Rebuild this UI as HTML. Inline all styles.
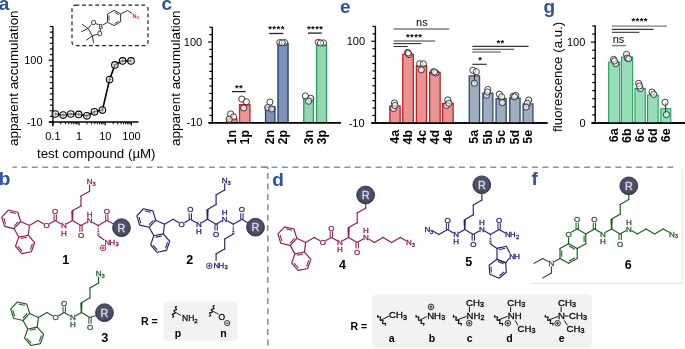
<!DOCTYPE html><html><head><meta charset="utf-8"><style>html,body{margin:0;padding:0;background:#fff;}svg{display:block;will-change:transform;}text{font-family:"Liberation Sans",sans-serif;}</style></head><body><svg width="685" height="349" viewBox="0 0 685 349"><text x="-1.2" y="10" font-size="19" fill="#2c52a0" font-weight="bold" text-anchor="start" >a</text>
<text x="161.4" y="10.1" font-size="19" fill="#2c52a0" font-weight="bold" text-anchor="start" >c</text>
<text x="339.9" y="12.7" font-size="19" fill="#2c52a0" font-weight="bold" text-anchor="start" >e</text>
<text x="543.5" y="12.6" font-size="19" fill="#2c52a0" font-weight="bold" text-anchor="start" >g</text>
<text x="-1.2" y="185.3" font-size="19" fill="#2c52a0" font-weight="bold" text-anchor="start" >b</text>
<text x="272.2" y="185.7" font-size="19" fill="#2c52a0" font-weight="bold" text-anchor="start" >d</text>
<text x="531.6" y="185.4" font-size="19" fill="#2c52a0" font-weight="bold" text-anchor="start" >f</text>
<line x1="12.5" y1="167.2" x2="673.2" y2="167.2" stroke="#7d94ba" stroke-width="1.6" stroke-dasharray="5.9 4.52" stroke-dashoffset="1.5"/>
<line x1="267.8" y1="173.1" x2="267.8" y2="346" stroke="#7d94ba" stroke-width="1.6" stroke-dasharray="6 4.4"/>
<line x1="261.1" y1="167.2" x2="268.1" y2="167.2" stroke="#7d94ba" stroke-width="1.6" />
<line x1="267.8" y1="167.2" x2="267.8" y2="169" stroke="#7d94ba" stroke-width="1.6" />
<path d="M531 283.3 H682.3 V169" fill="none" stroke="#e6e6e6" stroke-width="1.2"/>
<line x1="52.9" y1="26.19" x2="52.9" y2="126.2" stroke="#000" stroke-width="1.4" />
<line x1="48.7" y1="122" x2="52.9" y2="122" stroke="#000" stroke-width="1.2" />
<line x1="49.9" y1="116.38" x2="52.9" y2="116.38" stroke="#000" stroke-width="1.2" />
<line x1="49.9" y1="110.76" x2="52.9" y2="110.76" stroke="#000" stroke-width="1.2" />
<line x1="49.9" y1="105.15" x2="52.9" y2="105.15" stroke="#000" stroke-width="1.2" />
<line x1="49.9" y1="99.53" x2="52.9" y2="99.53" stroke="#000" stroke-width="1.2" />
<line x1="49.9" y1="93.91" x2="52.9" y2="93.91" stroke="#000" stroke-width="1.2" />
<line x1="49.9" y1="88.29" x2="52.9" y2="88.29" stroke="#000" stroke-width="1.2" />
<line x1="49.9" y1="82.67" x2="52.9" y2="82.67" stroke="#000" stroke-width="1.2" />
<line x1="49.9" y1="77.06" x2="52.9" y2="77.06" stroke="#000" stroke-width="1.2" />
<line x1="49.9" y1="71.44" x2="52.9" y2="71.44" stroke="#000" stroke-width="1.2" />
<line x1="49.9" y1="65.82" x2="52.9" y2="65.82" stroke="#000" stroke-width="1.2" />
<line x1="48.7" y1="60.2" x2="52.9" y2="60.2" stroke="#000" stroke-width="1.2" />
<line x1="49.9" y1="54.58" x2="52.9" y2="54.58" stroke="#000" stroke-width="1.2" />
<line x1="49.9" y1="48.97" x2="52.9" y2="48.97" stroke="#000" stroke-width="1.2" />
<line x1="49.9" y1="43.35" x2="52.9" y2="43.35" stroke="#000" stroke-width="1.2" />
<line x1="49.9" y1="37.73" x2="52.9" y2="37.73" stroke="#000" stroke-width="1.2" />
<line x1="49.9" y1="32.11" x2="52.9" y2="32.11" stroke="#000" stroke-width="1.2" />
<line x1="49.9" y1="26.49" x2="52.9" y2="26.49" stroke="#000" stroke-width="1.2" />
<line x1="49.4" y1="122" x2="138.5" y2="122" stroke="#000" stroke-width="1.4" />
<line x1="52.9" y1="122" x2="52.9" y2="125.5" stroke="#000" stroke-width="1.0" />
<line x1="60.79" y1="122" x2="60.79" y2="124.3" stroke="#000" stroke-width="1.0" />
<line x1="65.4" y1="122" x2="65.4" y2="124.3" stroke="#000" stroke-width="1.0" />
<line x1="68.67" y1="122" x2="68.67" y2="124.3" stroke="#000" stroke-width="1.0" />
<line x1="71.21" y1="122" x2="71.21" y2="124.3" stroke="#000" stroke-width="1.0" />
<line x1="73.29" y1="122" x2="73.29" y2="124.3" stroke="#000" stroke-width="1.0" />
<line x1="75.04" y1="122" x2="75.04" y2="124.3" stroke="#000" stroke-width="1.0" />
<line x1="76.56" y1="122" x2="76.56" y2="124.3" stroke="#000" stroke-width="1.0" />
<line x1="77.9" y1="122" x2="77.9" y2="124.3" stroke="#000" stroke-width="1.0" />
<line x1="79.1" y1="122" x2="79.1" y2="125.5" stroke="#000" stroke-width="1.0" />
<line x1="86.99" y1="122" x2="86.99" y2="124.3" stroke="#000" stroke-width="1.0" />
<line x1="91.6" y1="122" x2="91.6" y2="124.3" stroke="#000" stroke-width="1.0" />
<line x1="94.87" y1="122" x2="94.87" y2="124.3" stroke="#000" stroke-width="1.0" />
<line x1="97.41" y1="122" x2="97.41" y2="124.3" stroke="#000" stroke-width="1.0" />
<line x1="99.49" y1="122" x2="99.49" y2="124.3" stroke="#000" stroke-width="1.0" />
<line x1="101.24" y1="122" x2="101.24" y2="124.3" stroke="#000" stroke-width="1.0" />
<line x1="102.76" y1="122" x2="102.76" y2="124.3" stroke="#000" stroke-width="1.0" />
<line x1="104.1" y1="122" x2="104.1" y2="124.3" stroke="#000" stroke-width="1.0" />
<line x1="105.3" y1="122" x2="105.3" y2="125.5" stroke="#000" stroke-width="1.0" />
<line x1="113.19" y1="122" x2="113.19" y2="124.3" stroke="#000" stroke-width="1.0" />
<line x1="117.8" y1="122" x2="117.8" y2="124.3" stroke="#000" stroke-width="1.0" />
<line x1="121.07" y1="122" x2="121.07" y2="124.3" stroke="#000" stroke-width="1.0" />
<line x1="123.61" y1="122" x2="123.61" y2="124.3" stroke="#000" stroke-width="1.0" />
<line x1="125.69" y1="122" x2="125.69" y2="124.3" stroke="#000" stroke-width="1.0" />
<line x1="127.44" y1="122" x2="127.44" y2="124.3" stroke="#000" stroke-width="1.0" />
<line x1="128.96" y1="122" x2="128.96" y2="124.3" stroke="#000" stroke-width="1.0" />
<line x1="130.3" y1="122" x2="130.3" y2="124.3" stroke="#000" stroke-width="1.0" />
<line x1="131.5" y1="122" x2="131.5" y2="125.5" stroke="#000" stroke-width="1.0" />
<text x="42.6" y="64.2" font-size="11" fill="#000" font-weight="normal" text-anchor="end" >100</text>
<text x="42.6" y="126" font-size="11" fill="#000" font-weight="normal" text-anchor="end" >-10</text>
<text x="52.9" y="139.8" font-size="11" fill="#000" font-weight="normal" text-anchor="middle" >0.1</text>
<text x="79.1" y="139.8" font-size="11" fill="#000" font-weight="normal" text-anchor="middle" >1</text>
<text x="105.3" y="139.8" font-size="11" fill="#000" font-weight="normal" text-anchor="middle" >10</text>
<text x="131.5" y="139.8" font-size="11" fill="#000" font-weight="normal" text-anchor="middle" >100</text>
<text x="96.3" y="158.1" font-size="13.3" fill="#000" font-weight="normal" text-anchor="middle" >test compound (µM)</text>
<text x="17.8" y="78.2" font-size="13.4" fill="#000" font-weight="normal" text-anchor="middle" transform="rotate(-90 17.8 78.2)">apparent accumulation</text>
<polyline points="55.3,114 63.2,115.1 70.8,114 78.7,114.4 86.9,115.8 94.5,111.8 102.4,110.1 109.6,79.6 114.9,64.9 122.6,60.9 131,60.9" fill="none" stroke="#000" stroke-width="1.6"/>
<circle cx="55.3" cy="114" r="3.3" fill="rgba(255,255,255,0.55)" stroke="#000" stroke-width="1.05" />
<line x1="53.1" y1="114" x2="57.5" y2="114" stroke="#666" stroke-width="0.6" />
<line x1="55.3" y1="111.8" x2="55.3" y2="116.2" stroke="#666" stroke-width="0.6" />
<circle cx="63.2" cy="115.1" r="3.3" fill="rgba(255,255,255,0.55)" stroke="#000" stroke-width="1.05" />
<line x1="61" y1="115.1" x2="65.4" y2="115.1" stroke="#666" stroke-width="0.6" />
<line x1="63.2" y1="112.9" x2="63.2" y2="117.3" stroke="#666" stroke-width="0.6" />
<circle cx="70.8" cy="114" r="3.3" fill="rgba(255,255,255,0.55)" stroke="#000" stroke-width="1.05" />
<line x1="68.6" y1="114" x2="73" y2="114" stroke="#666" stroke-width="0.6" />
<line x1="70.8" y1="111.8" x2="70.8" y2="116.2" stroke="#666" stroke-width="0.6" />
<circle cx="78.7" cy="114.4" r="3.3" fill="rgba(255,255,255,0.55)" stroke="#000" stroke-width="1.05" />
<line x1="76.5" y1="114.4" x2="80.9" y2="114.4" stroke="#666" stroke-width="0.6" />
<line x1="78.7" y1="112.2" x2="78.7" y2="116.6" stroke="#666" stroke-width="0.6" />
<circle cx="86.9" cy="115.8" r="3.3" fill="rgba(255,255,255,0.55)" stroke="#000" stroke-width="1.05" />
<line x1="84.7" y1="115.8" x2="89.1" y2="115.8" stroke="#666" stroke-width="0.6" />
<line x1="86.9" y1="113.6" x2="86.9" y2="118" stroke="#666" stroke-width="0.6" />
<circle cx="94.5" cy="111.8" r="3.3" fill="rgba(255,255,255,0.55)" stroke="#000" stroke-width="1.05" />
<line x1="92.3" y1="111.8" x2="96.7" y2="111.8" stroke="#666" stroke-width="0.6" />
<line x1="94.5" y1="109.6" x2="94.5" y2="114" stroke="#666" stroke-width="0.6" />
<circle cx="102.4" cy="110.1" r="3.3" fill="rgba(255,255,255,0.55)" stroke="#000" stroke-width="1.05" />
<line x1="100.2" y1="110.1" x2="104.6" y2="110.1" stroke="#666" stroke-width="0.6" />
<line x1="102.4" y1="107.9" x2="102.4" y2="112.3" stroke="#666" stroke-width="0.6" />
<circle cx="109.6" cy="79.6" r="3.3" fill="rgba(255,255,255,0.55)" stroke="#000" stroke-width="1.05" />
<line x1="107.4" y1="79.6" x2="111.8" y2="79.6" stroke="#666" stroke-width="0.6" />
<line x1="109.6" y1="77.4" x2="109.6" y2="81.8" stroke="#666" stroke-width="0.6" />
<circle cx="114.9" cy="64.9" r="3.3" fill="rgba(255,255,255,0.55)" stroke="#000" stroke-width="1.05" />
<line x1="112.7" y1="64.9" x2="117.1" y2="64.9" stroke="#666" stroke-width="0.6" />
<line x1="114.9" y1="62.7" x2="114.9" y2="67.1" stroke="#666" stroke-width="0.6" />
<circle cx="122.6" cy="60.9" r="3.3" fill="rgba(255,255,255,0.55)" stroke="#000" stroke-width="1.05" />
<line x1="120.4" y1="60.9" x2="124.8" y2="60.9" stroke="#666" stroke-width="0.6" />
<line x1="122.6" y1="58.7" x2="122.6" y2="63.1" stroke="#666" stroke-width="0.6" />
<circle cx="131" cy="60.9" r="3.3" fill="rgba(255,255,255,0.55)" stroke="#000" stroke-width="1.05" />
<line x1="128.8" y1="60.9" x2="133.2" y2="60.9" stroke="#666" stroke-width="0.6" />
<line x1="131" y1="58.7" x2="131" y2="63.1" stroke="#666" stroke-width="0.6" />
<rect x="72" y="5.2" width="76" height="40.5" rx="3.5" fill="none" stroke="#222" stroke-width="1.2" stroke-dasharray="3.8 2.8"/>
<line x1="114.1" y1="10.3" x2="120.6" y2="14" stroke="#2e2e2e" stroke-width="1.0" />
<line x1="120.6" y1="14" x2="120.6" y2="21.8" stroke="#2e2e2e" stroke-width="1.0" />
<line x1="120.6" y1="21.8" x2="114.1" y2="25.6" stroke="#2e2e2e" stroke-width="1.0" />
<line x1="114.1" y1="25.6" x2="107.5" y2="22.2" stroke="#2e2e2e" stroke-width="1.0" />
<line x1="107.5" y1="22.2" x2="107.5" y2="14" stroke="#2e2e2e" stroke-width="1.0" />
<line x1="107.5" y1="14" x2="114.1" y2="10.3" stroke="#2e2e2e" stroke-width="1.0" />
<line x1="114.54" y1="12.28" x2="118.7" y2="14.65" stroke="#2e2e2e" stroke-width="0.9" />
<line x1="118.69" y1="21.18" x2="114.53" y2="23.61" stroke="#2e2e2e" stroke-width="0.9" />
<line x1="109" y1="20.7" x2="109" y2="15.45" stroke="#2e2e2e" stroke-width="0.9" />
<line x1="107.5" y1="22.2" x2="102.6" y2="25.2" stroke="#2e2e2e" stroke-width="1.0" />
<text x="100.6" y="28.6" font-size="6.5" fill="#2e2e2e" font-weight="normal" text-anchor="middle" stroke="#2e2e2e" stroke-width="0.2" >B</text>
<text x="93.5" y="25.4" font-size="6.5" fill="#2e2e2e" font-weight="normal" text-anchor="middle" stroke="#2e2e2e" stroke-width="0.2" >O</text>
<text x="99.8" y="36.2" font-size="6.5" fill="#2e2e2e" font-weight="normal" text-anchor="middle" stroke="#2e2e2e" stroke-width="0.2" >O</text>
<line x1="98.6" y1="24.6" x2="95.6" y2="23.6" stroke="#2e2e2e" stroke-width="1.0" />
<line x1="100.4" y1="28.6" x2="100.1" y2="31.4" stroke="#2e2e2e" stroke-width="1.0" />
<line x1="91.4" y1="24.3" x2="88" y2="28.5" stroke="#2e2e2e" stroke-width="1.0" />
<line x1="97.6" y1="34.3" x2="92.4" y2="35.7" stroke="#2e2e2e" stroke-width="1.0" />
<line x1="88" y1="28.5" x2="92.4" y2="35.7" stroke="#2e2e2e" stroke-width="1.0" />
<line x1="88" y1="28.5" x2="82" y2="24.2" stroke="#2e2e2e" stroke-width="1.0" />
<line x1="88" y1="28.5" x2="81.2" y2="31.8" stroke="#2e2e2e" stroke-width="1.0" />
<line x1="92.4" y1="35.7" x2="86.3" y2="40.4" stroke="#2e2e2e" stroke-width="1.0" />
<line x1="92.4" y1="35.7" x2="93.5" y2="42.8" stroke="#2e2e2e" stroke-width="1.0" />
<line x1="120.6" y1="14" x2="127.5" y2="10.6" stroke="#2e2e2e" stroke-width="1.0" />
<line x1="127.5" y1="10.6" x2="132.4" y2="13.6" stroke="#2e2e2e" stroke-width="1.0" />
<text x="132.5" y="17.7" font-size="5.6" fill="#e02424" font-weight="bold" text-anchor="start" >N</text>
<text x="136.4" y="18.9" font-size="4.3" fill="#e02424" font-weight="bold" text-anchor="start" >3</text>
<line x1="212.3" y1="27.01" x2="212.3" y2="123.5" stroke="#000" stroke-width="1.4" />
<line x1="208.1" y1="122.8" x2="212.3" y2="122.8" stroke="#000" stroke-width="1.2" />
<line x1="209.3" y1="115.45" x2="212.3" y2="115.45" stroke="#000" stroke-width="1.2" />
<line x1="209.3" y1="108.11" x2="212.3" y2="108.11" stroke="#000" stroke-width="1.2" />
<line x1="209.3" y1="100.77" x2="212.3" y2="100.77" stroke="#000" stroke-width="1.2" />
<line x1="209.3" y1="93.42" x2="212.3" y2="93.42" stroke="#000" stroke-width="1.2" />
<line x1="209.3" y1="86.07" x2="212.3" y2="86.07" stroke="#000" stroke-width="1.2" />
<line x1="209.3" y1="78.73" x2="212.3" y2="78.73" stroke="#000" stroke-width="1.2" />
<line x1="209.3" y1="71.38" x2="212.3" y2="71.38" stroke="#000" stroke-width="1.2" />
<line x1="209.3" y1="64.04" x2="212.3" y2="64.04" stroke="#000" stroke-width="1.2" />
<line x1="209.3" y1="56.69" x2="212.3" y2="56.69" stroke="#000" stroke-width="1.2" />
<line x1="209.3" y1="49.35" x2="212.3" y2="49.35" stroke="#000" stroke-width="1.2" />
<line x1="208.1" y1="42" x2="212.3" y2="42" stroke="#000" stroke-width="1.2" />
<line x1="209.3" y1="34.66" x2="212.3" y2="34.66" stroke="#000" stroke-width="1.2" />
<line x1="209.3" y1="27.31" x2="212.3" y2="27.31" stroke="#000" stroke-width="1.2" />
<line x1="209" y1="122.8" x2="340.9" y2="122.8" stroke="#000" stroke-width="1.5" />
<text x="202.2" y="46" font-size="11" fill="#000" font-weight="normal" text-anchor="end" >100</text>
<text x="202.5" y="126.1" font-size="11" fill="#000" font-weight="normal" text-anchor="end" >-10</text>
<text x="179.7" y="78.2" font-size="13.4" fill="#000" font-weight="normal" text-anchor="middle" transform="rotate(-90 179.7 78.2)">apparent accumulation</text>
<rect x="226.65" y="118.85" width="10.3" height="3.95" rx="0" fill="#e89697" stroke="none" stroke-width="0" />
<path d="M226.65,122.8 V118.85 H236.95 V122.8" fill="none" stroke="#d42222" stroke-width="1.3"/>
<text x="235.9" y="129.8" font-size="12.5" fill="#000" font-weight="bold" text-anchor="end" transform="rotate(-90 235.9 129.8)">1n</text>
<rect x="239.55" y="104.75" width="10.4" height="18.05" rx="0" fill="#e89697" stroke="none" stroke-width="0" />
<path d="M239.55,122.8 V104.75 H249.95 V122.8" fill="none" stroke="#d42222" stroke-width="1.3"/>
<text x="248.85" y="129.8" font-size="12.5" fill="#000" font-weight="bold" text-anchor="end" transform="rotate(-90 248.85 129.8)">1p</text>
<rect x="265.55" y="106.85" width="9.4" height="15.95" rx="0" fill="#7f91b4" stroke="none" stroke-width="0" />
<path d="M265.55,122.8 V106.85 H274.95 V122.8" fill="none" stroke="#1f3b7c" stroke-width="1.3"/>
<text x="274.35" y="129.8" font-size="12.5" fill="#000" font-weight="bold" text-anchor="end" transform="rotate(-90 274.35 129.8)">2n</text>
<rect x="277.95" y="43.55" width="10.1" height="79.25" rx="0" fill="#7f91b4" stroke="none" stroke-width="0" />
<path d="M277.95,122.8 V43.55 H288.05 V122.8" fill="none" stroke="#1f3b7c" stroke-width="1.3"/>
<text x="287.1" y="129.8" font-size="12.5" fill="#000" font-weight="bold" text-anchor="end" transform="rotate(-90 287.1 129.8)">2p</text>
<rect x="303.75" y="98.15" width="9.7" height="24.65" rx="0" fill="#96d4b4" stroke="none" stroke-width="0" />
<path d="M303.75,122.8 V98.15 H313.45 V122.8" fill="none" stroke="#22a055" stroke-width="1.3"/>
<text x="312.7" y="129.8" font-size="12.5" fill="#000" font-weight="bold" text-anchor="end" transform="rotate(-90 312.7 129.8)">3n</text>
<rect x="316.55" y="44.95" width="10" height="77.85" rx="0" fill="#96d4b4" stroke="none" stroke-width="0" />
<path d="M316.55,122.8 V44.95 H326.55 V122.8" fill="none" stroke="#22a055" stroke-width="1.3"/>
<text x="325.65" y="129.8" font-size="12.5" fill="#000" font-weight="bold" text-anchor="end" transform="rotate(-90 325.65 129.8)">3p</text>
<line x1="209" y1="122.8" x2="340.9" y2="122.8" stroke="#000" stroke-width="1.5" />
<circle cx="230.6" cy="114" r="3.1" fill="rgba(255,255,255,0.6)" stroke="#2a2a2a" stroke-width="0.9" />
<circle cx="233.6" cy="116.9" r="3.1" fill="rgba(255,255,255,0.6)" stroke="#2a2a2a" stroke-width="0.9" />
<circle cx="229.2" cy="119.3" r="3.1" fill="rgba(255,255,255,0.6)" stroke="#2a2a2a" stroke-width="0.9" />
<circle cx="241.8" cy="99.1" r="3.1" fill="rgba(255,255,255,0.6)" stroke="#2a2a2a" stroke-width="0.9" />
<circle cx="246.4" cy="101.7" r="3.1" fill="rgba(255,255,255,0.6)" stroke="#2a2a2a" stroke-width="0.9" />
<circle cx="243.7" cy="107.9" r="3.1" fill="rgba(255,255,255,0.6)" stroke="#2a2a2a" stroke-width="0.9" />
<circle cx="269.9" cy="102.1" r="3.1" fill="rgba(255,255,255,0.6)" stroke="#2a2a2a" stroke-width="0.9" />
<circle cx="267.6" cy="107.6" r="3.1" fill="rgba(255,255,255,0.6)" stroke="#2a2a2a" stroke-width="0.9" />
<circle cx="271.8" cy="109" r="3.1" fill="rgba(255,255,255,0.6)" stroke="#2a2a2a" stroke-width="0.9" />
<circle cx="279.8" cy="42.6" r="3.1" fill="rgba(255,255,255,0.6)" stroke="#2a2a2a" stroke-width="0.9" />
<circle cx="284.6" cy="42.6" r="3.1" fill="rgba(255,255,255,0.6)" stroke="#2a2a2a" stroke-width="0.9" />
<circle cx="282.2" cy="42.8" r="3.1" fill="rgba(255,255,255,0.6)" stroke="#2a2a2a" stroke-width="0.9" />
<circle cx="305.4" cy="96" r="3.1" fill="rgba(255,255,255,0.6)" stroke="#2a2a2a" stroke-width="0.9" />
<circle cx="310.7" cy="98.3" r="3.1" fill="rgba(255,255,255,0.6)" stroke="#2a2a2a" stroke-width="0.9" />
<circle cx="308.6" cy="101.2" r="3.1" fill="rgba(255,255,255,0.6)" stroke="#2a2a2a" stroke-width="0.9" />
<circle cx="318.3" cy="42.4" r="3.1" fill="rgba(255,255,255,0.6)" stroke="#2a2a2a" stroke-width="0.9" />
<circle cx="323.5" cy="42.9" r="3.1" fill="rgba(255,255,255,0.6)" stroke="#2a2a2a" stroke-width="0.9" />
<circle cx="320.5" cy="43" r="3.1" fill="rgba(255,255,255,0.6)" stroke="#2a2a2a" stroke-width="0.9" />
<line x1="231.9" y1="91.6" x2="245.7" y2="91.6" stroke="#222" stroke-width="1.3" />
<text x="239.1" y="90.5" font-size="9.5" fill="#000" font-weight="bold" text-anchor="middle" letter-spacing="0.45">**</text>
<line x1="269.2" y1="33.5" x2="283.2" y2="33.5" stroke="#222" stroke-width="1.3" />
<text x="276.5" y="31.9" font-size="9.5" fill="#000" font-weight="bold" text-anchor="middle" letter-spacing="0.45">****</text>
<line x1="308" y1="33.1" x2="321.8" y2="33.1" stroke="#222" stroke-width="1.3" />
<text x="315.2" y="31.8" font-size="9.5" fill="#000" font-weight="bold" text-anchor="middle" letter-spacing="0.45">****</text>
<line x1="375.4" y1="26.14" x2="375.4" y2="123.6" stroke="#000" stroke-width="1.4" />
<line x1="371.2" y1="122.9" x2="375.4" y2="122.9" stroke="#000" stroke-width="1.2" />
<line x1="372.4" y1="115.48" x2="375.4" y2="115.48" stroke="#000" stroke-width="1.2" />
<line x1="372.4" y1="108.06" x2="375.4" y2="108.06" stroke="#000" stroke-width="1.2" />
<line x1="372.4" y1="100.64" x2="375.4" y2="100.64" stroke="#000" stroke-width="1.2" />
<line x1="372.4" y1="93.22" x2="375.4" y2="93.22" stroke="#000" stroke-width="1.2" />
<line x1="372.4" y1="85.8" x2="375.4" y2="85.8" stroke="#000" stroke-width="1.2" />
<line x1="372.4" y1="78.38" x2="375.4" y2="78.38" stroke="#000" stroke-width="1.2" />
<line x1="372.4" y1="70.96" x2="375.4" y2="70.96" stroke="#000" stroke-width="1.2" />
<line x1="372.4" y1="63.54" x2="375.4" y2="63.54" stroke="#000" stroke-width="1.2" />
<line x1="372.4" y1="56.12" x2="375.4" y2="56.12" stroke="#000" stroke-width="1.2" />
<line x1="372.4" y1="48.7" x2="375.4" y2="48.7" stroke="#000" stroke-width="1.2" />
<line x1="371.2" y1="41.28" x2="375.4" y2="41.28" stroke="#000" stroke-width="1.2" />
<line x1="372.4" y1="33.86" x2="375.4" y2="33.86" stroke="#000" stroke-width="1.2" />
<line x1="372.4" y1="26.44" x2="375.4" y2="26.44" stroke="#000" stroke-width="1.2" />
<line x1="371.6" y1="122.9" x2="547.5" y2="122.9" stroke="#000" stroke-width="1.5" />
<text x="365" y="45.3" font-size="11" fill="#000" font-weight="normal" text-anchor="end" >100</text>
<text x="364.6" y="126.5" font-size="11" fill="#000" font-weight="normal" text-anchor="end" >-10</text>
<rect x="389.85" y="106.15" width="10.3" height="16.75" rx="0" fill="#e69494" stroke="none" stroke-width="0" />
<path d="M389.85,122.9 V106.15 H400.15 V122.9" fill="none" stroke="#cc1c1c" stroke-width="1.3"/>
<text x="399.1" y="129.8" font-size="12.5" fill="#000" font-weight="bold" text-anchor="end" transform="rotate(-90 399.1 129.8)">4a</text>
<rect x="402.75" y="54.45" width="10.6" height="68.45" rx="0" fill="#e69494" stroke="none" stroke-width="0" />
<path d="M402.75,122.9 V54.45 H413.35 V122.9" fill="none" stroke="#cc1c1c" stroke-width="1.3"/>
<text x="412.15" y="129.8" font-size="12.5" fill="#000" font-weight="bold" text-anchor="end" transform="rotate(-90 412.15 129.8)">4b</text>
<rect x="416.35" y="65.75" width="10.2" height="57.15" rx="0" fill="#e69494" stroke="none" stroke-width="0" />
<path d="M416.35,122.9 V65.75 H426.55 V122.9" fill="none" stroke="#cc1c1c" stroke-width="1.3"/>
<text x="425.55" y="129.8" font-size="12.5" fill="#000" font-weight="bold" text-anchor="end" transform="rotate(-90 425.55 129.8)">4c</text>
<rect x="429.65" y="72.45" width="10.5" height="50.45" rx="0" fill="#e69494" stroke="none" stroke-width="0" />
<path d="M429.65,122.9 V72.45 H440.15 V122.9" fill="none" stroke="#cc1c1c" stroke-width="1.3"/>
<text x="439" y="129.8" font-size="12.5" fill="#000" font-weight="bold" text-anchor="end" transform="rotate(-90 439 129.8)">4d</text>
<rect x="442.65" y="103.45" width="10.5" height="19.45" rx="0" fill="#e69494" stroke="none" stroke-width="0" />
<path d="M442.65,122.9 V103.45 H453.15 V122.9" fill="none" stroke="#cc1c1c" stroke-width="1.3"/>
<text x="452" y="129.8" font-size="12.5" fill="#000" font-weight="bold" text-anchor="end" transform="rotate(-90 452 129.8)">4e</text>
<rect x="469.25" y="75.85" width="10.3" height="47.05" rx="0" fill="#a0adbf" stroke="none" stroke-width="0" />
<path d="M469.25,122.9 V75.85 H479.55 V122.9" fill="none" stroke="#2f4b70" stroke-width="1.3"/>
<text x="478.5" y="129.8" font-size="12.5" fill="#000" font-weight="bold" text-anchor="end" transform="rotate(-90 478.5 129.8)">5a</text>
<rect x="482.85" y="93.05" width="10" height="29.85" rx="0" fill="#a0adbf" stroke="none" stroke-width="0" />
<path d="M482.85,122.9 V93.05 H492.85 V122.9" fill="none" stroke="#2f4b70" stroke-width="1.3"/>
<text x="491.95" y="129.8" font-size="12.5" fill="#000" font-weight="bold" text-anchor="end" transform="rotate(-90 491.95 129.8)">5b</text>
<rect x="496.05" y="98.75" width="10.1" height="24.15" rx="0" fill="#a0adbf" stroke="none" stroke-width="0" />
<path d="M496.05,122.9 V98.75 H506.15 V122.9" fill="none" stroke="#2f4b70" stroke-width="1.3"/>
<text x="505.2" y="129.8" font-size="12.5" fill="#000" font-weight="bold" text-anchor="end" transform="rotate(-90 505.2 129.8)">5c</text>
<rect x="509.75" y="98.15" width="10.3" height="24.75" rx="0" fill="#a0adbf" stroke="none" stroke-width="0" />
<path d="M509.75,122.9 V98.15 H520.05 V122.9" fill="none" stroke="#2f4b70" stroke-width="1.3"/>
<text x="519" y="129.8" font-size="12.5" fill="#000" font-weight="bold" text-anchor="end" transform="rotate(-90 519 129.8)">5d</text>
<rect x="523.15" y="103.95" width="9.8" height="18.95" rx="0" fill="#a0adbf" stroke="none" stroke-width="0" />
<path d="M523.15,122.9 V103.95 H532.95 V122.9" fill="none" stroke="#2f4b70" stroke-width="1.3"/>
<text x="532.15" y="129.8" font-size="12.5" fill="#000" font-weight="bold" text-anchor="end" transform="rotate(-90 532.15 129.8)">5e</text>
<line x1="371.6" y1="122.9" x2="547.5" y2="122.9" stroke="#000" stroke-width="1.5" />
<circle cx="394.5" cy="103" r="3.1" fill="rgba(255,255,255,0.6)" stroke="#2a2a2a" stroke-width="0.9" />
<circle cx="393.5" cy="108.5" r="3.1" fill="rgba(255,255,255,0.6)" stroke="#2a2a2a" stroke-width="0.9" />
<circle cx="395" cy="105.5" r="3.1" fill="rgba(255,255,255,0.6)" stroke="#2a2a2a" stroke-width="0.9" />
<circle cx="407.6" cy="52.5" r="3.1" fill="rgba(255,255,255,0.6)" stroke="#2a2a2a" stroke-width="0.9" />
<circle cx="409" cy="54.5" r="3.1" fill="rgba(255,255,255,0.6)" stroke="#2a2a2a" stroke-width="0.9" />
<circle cx="408.2" cy="53" r="3.1" fill="rgba(255,255,255,0.6)" stroke="#2a2a2a" stroke-width="0.9" />
<circle cx="419.7" cy="63.8" r="3.1" fill="rgba(255,255,255,0.6)" stroke="#2a2a2a" stroke-width="0.9" />
<circle cx="423.3" cy="63.8" r="3.1" fill="rgba(255,255,255,0.6)" stroke="#2a2a2a" stroke-width="0.9" />
<circle cx="421.3" cy="69.8" r="3.1" fill="rgba(255,255,255,0.6)" stroke="#2a2a2a" stroke-width="0.9" />
<circle cx="433.3" cy="71.8" r="3.1" fill="rgba(255,255,255,0.6)" stroke="#2a2a2a" stroke-width="0.9" />
<circle cx="435.9" cy="73" r="3.1" fill="rgba(255,255,255,0.6)" stroke="#2a2a2a" stroke-width="0.9" />
<circle cx="434.5" cy="72" r="3.1" fill="rgba(255,255,255,0.6)" stroke="#2a2a2a" stroke-width="0.9" />
<circle cx="447.8" cy="99.9" r="3.1" fill="rgba(255,255,255,0.6)" stroke="#2a2a2a" stroke-width="0.9" />
<circle cx="446.6" cy="105.4" r="3.1" fill="rgba(255,255,255,0.6)" stroke="#2a2a2a" stroke-width="0.9" />
<circle cx="448.9" cy="103.3" r="3.1" fill="rgba(255,255,255,0.6)" stroke="#2a2a2a" stroke-width="0.9" />
<line x1="474.4" y1="71" x2="474.4" y2="83" stroke="#222" stroke-width="1.0" />
<circle cx="472.9" cy="70.3" r="3.1" fill="rgba(255,255,255,0.6)" stroke="#2a2a2a" stroke-width="0.9" />
<circle cx="476.3" cy="71.7" r="3.1" fill="rgba(255,255,255,0.6)" stroke="#2a2a2a" stroke-width="0.9" />
<circle cx="474.4" cy="83.2" r="3.1" fill="rgba(255,255,255,0.6)" stroke="#2a2a2a" stroke-width="0.9" />
<circle cx="487.8" cy="89.5" r="3.1" fill="rgba(255,255,255,0.6)" stroke="#2a2a2a" stroke-width="0.9" />
<circle cx="486.6" cy="95.2" r="3.1" fill="rgba(255,255,255,0.6)" stroke="#2a2a2a" stroke-width="0.9" />
<circle cx="487.5" cy="92" r="3.1" fill="rgba(255,255,255,0.6)" stroke="#2a2a2a" stroke-width="0.9" />
<circle cx="499.3" cy="94.2" r="3.1" fill="rgba(255,255,255,0.6)" stroke="#2a2a2a" stroke-width="0.9" />
<circle cx="501.6" cy="96.8" r="3.1" fill="rgba(255,255,255,0.6)" stroke="#2a2a2a" stroke-width="0.9" />
<circle cx="502.2" cy="102.6" r="3.1" fill="rgba(255,255,255,0.6)" stroke="#2a2a2a" stroke-width="0.9" />
<circle cx="513.2" cy="96.2" r="3.1" fill="rgba(255,255,255,0.6)" stroke="#2a2a2a" stroke-width="0.9" />
<circle cx="515.8" cy="95.5" r="3.1" fill="rgba(255,255,255,0.6)" stroke="#2a2a2a" stroke-width="0.9" />
<circle cx="514.5" cy="96.8" r="3.1" fill="rgba(255,255,255,0.6)" stroke="#2a2a2a" stroke-width="0.9" />
<circle cx="528.7" cy="100" r="3.1" fill="rgba(255,255,255,0.6)" stroke="#2a2a2a" stroke-width="0.9" />
<circle cx="527.4" cy="103.3" r="3.1" fill="rgba(255,255,255,0.6)" stroke="#2a2a2a" stroke-width="0.9" />
<circle cx="526.1" cy="107.1" r="3.1" fill="rgba(255,255,255,0.6)" stroke="#2a2a2a" stroke-width="0.9" />
<line x1="393.6" y1="29" x2="449.3" y2="29" stroke="#7d7d7d" stroke-width="1.4" />
<text x="421.9" y="25.8" font-size="11" fill="#000" font-weight="normal" text-anchor="middle" >ns</text>
<text x="414.2" y="40.2" font-size="9.5" fill="#000" font-weight="bold" text-anchor="middle" letter-spacing="0.45">****</text>
<line x1="393.6" y1="41" x2="435.1" y2="41" stroke="#7d7d7d" stroke-width="1.4" />
<line x1="393.6" y1="43.6" x2="421.4" y2="43.6" stroke="#333" stroke-width="1.1" />
<line x1="393.6" y1="46.5" x2="407.7" y2="46.5" stroke="#333" stroke-width="1.1" />
<text x="500.6" y="45.6" font-size="9.5" fill="#000" font-weight="bold" text-anchor="middle" letter-spacing="0.45">**</text>
<line x1="472.4" y1="46.4" x2="528.5" y2="46.4" stroke="#333" stroke-width="1.2" />
<line x1="472.4" y1="49.3" x2="514.2" y2="49.3" stroke="#333" stroke-width="1.1" />
<line x1="472.4" y1="52" x2="500.8" y2="52" stroke="#7d7d7d" stroke-width="1.4" />
<text x="480.3" y="62.8" font-size="9.5" fill="#000" font-weight="bold" text-anchor="middle" letter-spacing="0.45">*</text>
<line x1="472.4" y1="64.3" x2="486.7" y2="64.3" stroke="#333" stroke-width="1.2" />
<line x1="595.2" y1="25.62" x2="595.2" y2="123.7" stroke="#000" stroke-width="1.4" />
<line x1="591" y1="123" x2="595.2" y2="123" stroke="#000" stroke-width="1.2" />
<line x1="592.2" y1="114.91" x2="595.2" y2="114.91" stroke="#000" stroke-width="1.2" />
<line x1="592.2" y1="106.82" x2="595.2" y2="106.82" stroke="#000" stroke-width="1.2" />
<line x1="592.2" y1="98.73" x2="595.2" y2="98.73" stroke="#000" stroke-width="1.2" />
<line x1="592.2" y1="90.64" x2="595.2" y2="90.64" stroke="#000" stroke-width="1.2" />
<line x1="592.2" y1="82.55" x2="595.2" y2="82.55" stroke="#000" stroke-width="1.2" />
<line x1="592.2" y1="74.46" x2="595.2" y2="74.46" stroke="#000" stroke-width="1.2" />
<line x1="592.2" y1="66.37" x2="595.2" y2="66.37" stroke="#000" stroke-width="1.2" />
<line x1="592.2" y1="58.28" x2="595.2" y2="58.28" stroke="#000" stroke-width="1.2" />
<line x1="592.2" y1="50.19" x2="595.2" y2="50.19" stroke="#000" stroke-width="1.2" />
<line x1="591" y1="42.1" x2="595.2" y2="42.1" stroke="#000" stroke-width="1.2" />
<line x1="592.2" y1="34.01" x2="595.2" y2="34.01" stroke="#000" stroke-width="1.2" />
<line x1="592.2" y1="25.92" x2="595.2" y2="25.92" stroke="#000" stroke-width="1.2" />
<line x1="592" y1="123" x2="685" y2="123" stroke="#000" stroke-width="1.5" />
<text x="585.3" y="45.6" font-size="11" fill="#000" font-weight="normal" text-anchor="end" >100</text>
<text x="585.5" y="126.5" font-size="11" fill="#000" font-weight="normal" text-anchor="end" >0</text>
<text x="562.2" y="76.8" font-size="13.3" fill="#000" font-weight="normal" text-anchor="middle" transform="rotate(-90 562.2 76.8)">fluorescence (a.u.)</text>
<rect x="608.65" y="62.05" width="11.1" height="60.95" rx="0" fill="#97ddb8" stroke="none" stroke-width="0" />
<path d="M608.65,123 V62.05 H619.75 V123" fill="none" stroke="#22a157" stroke-width="1.1"/>
<text x="618.3" y="128.4" font-size="12.5" fill="#000" font-weight="bold" text-anchor="end" transform="rotate(-90 618.3 128.4)">6a</text>
<rect x="621.45" y="57.05" width="11.2" height="65.95" rx="0" fill="#97ddb8" stroke="none" stroke-width="0" />
<path d="M621.45,123 V57.05 H632.65 V123" fill="none" stroke="#22a157" stroke-width="1.1"/>
<text x="631.15" y="128.4" font-size="12.5" fill="#000" font-weight="bold" text-anchor="end" transform="rotate(-90 631.15 128.4)">6b</text>
<rect x="634.95" y="88.65" width="10.3" height="34.35" rx="0" fill="#97ddb8" stroke="none" stroke-width="0" />
<path d="M634.95,123 V88.65 H645.25 V123" fill="none" stroke="#22a157" stroke-width="1.1"/>
<text x="644.2" y="128.4" font-size="12.5" fill="#000" font-weight="bold" text-anchor="end" transform="rotate(-90 644.2 128.4)">6c</text>
<rect x="647.55" y="94.95" width="10.6" height="28.05" rx="0" fill="#97ddb8" stroke="none" stroke-width="0" />
<path d="M647.55,123 V94.95 H658.15 V123" fill="none" stroke="#22a157" stroke-width="1.1"/>
<text x="656.95" y="128.4" font-size="12.5" fill="#000" font-weight="bold" text-anchor="end" transform="rotate(-90 656.95 128.4)">6d</text>
<rect x="660.85" y="108.75" width="9.9" height="14.25" rx="0" fill="#97ddb8" stroke="none" stroke-width="0" />
<path d="M660.85,123 V108.75 H670.75 V123" fill="none" stroke="#22a157" stroke-width="1.1"/>
<text x="669.9" y="128.4" font-size="12.5" fill="#000" font-weight="bold" text-anchor="end" transform="rotate(-90 669.9 128.4)">6e</text>
<line x1="592" y1="123" x2="685" y2="123" stroke="#000" stroke-width="1.5" />
<circle cx="613.6" cy="59.4" r="3.1" fill="rgba(255,255,255,0.6)" stroke="#2a2a2a" stroke-width="0.9" />
<circle cx="615.8" cy="63.7" r="3.1" fill="rgba(255,255,255,0.6)" stroke="#2a2a2a" stroke-width="0.9" />
<circle cx="614.5" cy="61" r="3.1" fill="rgba(255,255,255,0.6)" stroke="#2a2a2a" stroke-width="0.9" />
<circle cx="626.5" cy="54.4" r="3.1" fill="rgba(255,255,255,0.6)" stroke="#2a2a2a" stroke-width="0.9" />
<circle cx="627.2" cy="58" r="3.1" fill="rgba(255,255,255,0.6)" stroke="#2a2a2a" stroke-width="0.9" />
<circle cx="628.7" cy="58.7" r="3.1" fill="rgba(255,255,255,0.6)" stroke="#2a2a2a" stroke-width="0.9" />
<circle cx="638.7" cy="83.4" r="3.1" fill="rgba(255,255,255,0.6)" stroke="#2a2a2a" stroke-width="0.9" />
<circle cx="640.3" cy="88.6" r="3.1" fill="rgba(255,255,255,0.6)" stroke="#2a2a2a" stroke-width="0.9" />
<circle cx="639.5" cy="86" r="3.1" fill="rgba(255,255,255,0.6)" stroke="#2a2a2a" stroke-width="0.9" />
<circle cx="652.1" cy="92.1" r="3.1" fill="rgba(255,255,255,0.6)" stroke="#2a2a2a" stroke-width="0.9" />
<circle cx="653.7" cy="94.4" r="3.1" fill="rgba(255,255,255,0.6)" stroke="#2a2a2a" stroke-width="0.9" />
<line x1="665.7" y1="102.3" x2="665.7" y2="114.6" stroke="#222" stroke-width="1.0" />
<circle cx="665" cy="102.3" r="3.1" fill="rgba(255,255,255,0.6)" stroke="#2a2a2a" stroke-width="0.9" />
<circle cx="666.4" cy="114.6" r="3.1" fill="rgba(255,255,255,0.6)" stroke="#2a2a2a" stroke-width="0.9" />
<text x="639.7" y="24.2" font-size="9.5" fill="#000" font-weight="bold" text-anchor="middle" letter-spacing="0.45">****</text>
<line x1="611.9" y1="26.1" x2="666.9" y2="26.1" stroke="#7d7d7d" stroke-width="1.4" />
<line x1="611.9" y1="29.4" x2="653.5" y2="29.4" stroke="#333" stroke-width="1.1" />
<line x1="611.9" y1="32.3" x2="639.4" y2="32.3" stroke="#333" stroke-width="1.1" />
<text x="618.5" y="42.6" font-size="11" fill="#000" font-weight="normal" text-anchor="middle" >ns</text>
<line x1="611.9" y1="45.6" x2="626.1" y2="45.6" stroke="#7d7d7d" stroke-width="1.4" />
<defs><radialGradient id="rg" cx="50%" cy="45%" r="55%"><stop offset="0" stop-color="#575a72"/><stop offset="0.75" stop-color="#4a4d64"/><stop offset="1" stop-color="#383a50"/></radialGradient></defs>
<path d="M20.63,221.5 L14.01,228.59 L4.56,226.41 L1.72,217.14 L8.34,210.04 L17.79,212.22 Z" fill="none" stroke="#8d1c56" stroke-width="1.15" stroke-linejoin="round"/>
<path d="M18.71,237.08 L28.23,235.23 L34.6,242.55 L31.44,251.72 L21.92,253.57 L15.55,246.25 Z" fill="none" stroke="#8d1c56" stroke-width="1.15" stroke-linejoin="round"/>
<line x1="18.26" y1="221.55" x2="13.89" y2="226.23" stroke="#8d1c56" stroke-width="1.035" />
<line x1="5.7" y1="224.34" x2="3.83" y2="218.22" stroke="#8d1c56" stroke-width="1.035" />
<line x1="9.56" y1="212.07" x2="15.8" y2="213.51" stroke="#8d1c56" stroke-width="1.035" />
<line x1="20.66" y1="238.43" x2="26.94" y2="237.21" stroke="#8d1c56" stroke-width="1.035" />
<line x1="32.45" y1="243.55" x2="30.37" y2="249.61" stroke="#8d1c56" stroke-width="1.035" />
<line x1="22.12" y1="251.21" x2="17.92" y2="246.38" stroke="#8d1c56" stroke-width="1.035" />
<line x1="20.63" y1="221.5" x2="29.42" y2="225.6" stroke="#8d1c56" stroke-width="1.15" />
<line x1="28.23" y1="235.23" x2="29.42" y2="225.6" stroke="#8d1c56" stroke-width="1.15" />
<line x1="14.01" y1="228.59" x2="18.71" y2="237.08" stroke="#8d1c56" stroke-width="1.15" />
<line x1="29.42" y1="225.6" x2="38" y2="220.6" stroke="#8d1c56" stroke-width="1.15" stroke-linecap="round"/>
<line x1="38" y1="220.6" x2="43.49" y2="223.79" stroke="#8d1c56" stroke-width="1.15" stroke-linecap="round"/>
<line x1="49.71" y1="223.79" x2="55.2" y2="220.6" stroke="#8d1c56" stroke-width="1.15" stroke-linecap="round"/>
<line x1="56.35" y1="220.6" x2="56.35" y2="214.5" stroke="#8d1c56" stroke-width="1.035" />
<line x1="54.05" y1="220.6" x2="54.05" y2="214.5" stroke="#8d1c56" stroke-width="1.035" />
<line x1="55.2" y1="220.6" x2="60.69" y2="223.79" stroke="#8d1c56" stroke-width="1.15" stroke-linecap="round"/>
<line x1="66.91" y1="223.79" x2="72.4" y2="220.6" stroke="#8d1c56" stroke-width="1.15" stroke-linecap="round"/>
<text x="63.8" y="235.58" font-size="8" fill="#8d1c56" font-weight="normal" text-anchor="middle" stroke="#8d1c56" stroke-width="0.3" >H</text>
<polygon points="73.15,220.6 73.55,210.8 71.25,210.8 71.65,220.6" fill="#8d1c56"/>
<line x1="72.4" y1="210.8" x2="81" y2="205.9" stroke="#8d1c56" stroke-width="1.15" stroke-linecap="round"/>
<line x1="81" y1="205.9" x2="81" y2="196.1" stroke="#8d1c56" stroke-width="1.15" stroke-linecap="round"/>
<line x1="81" y1="196.1" x2="89.6" y2="191.2" stroke="#8d1c56" stroke-width="1.15" stroke-linecap="round"/>
<line x1="89.6" y1="191.2" x2="89.6" y2="185" stroke="#8d1c56" stroke-width="1.15" stroke-linecap="round"/>
<line x1="72.4" y1="220.6" x2="81" y2="225.6" stroke="#8d1c56" stroke-width="1.15" stroke-linecap="round"/>
<line x1="79.85" y1="225.6" x2="79.85" y2="231.8" stroke="#8d1c56" stroke-width="1.035" />
<line x1="82.15" y1="225.6" x2="82.15" y2="231.8" stroke="#8d1c56" stroke-width="1.035" />
<line x1="81" y1="225.6" x2="86.49" y2="222.41" stroke="#8d1c56" stroke-width="1.15" stroke-linecap="round"/>
<line x1="92.71" y1="222.41" x2="98.2" y2="225.6" stroke="#8d1c56" stroke-width="1.15" stroke-linecap="round"/>
<line x1="98.2" y1="225.6" x2="106.8" y2="220.6" stroke="#8d1c56" stroke-width="1.15" stroke-linecap="round"/>
<line x1="107.95" y1="220.6" x2="107.95" y2="214.5" stroke="#8d1c56" stroke-width="1.035" />
<line x1="105.65" y1="220.6" x2="105.65" y2="214.5" stroke="#8d1c56" stroke-width="1.035" />
<line x1="106.8" y1="220.6" x2="113.4" y2="223.79" stroke="#8d1c56" stroke-width="1.15" stroke-linecap="round"/>
<line x1="98.65" y1="226.44" x2="97.78" y2="226.46" stroke="#8d1c56" stroke-width="0.9" />
<line x1="98.85" y1="228.14" x2="97.65" y2="228.16" stroke="#8d1c56" stroke-width="0.9" />
<line x1="99.05" y1="229.83" x2="97.52" y2="229.87" stroke="#8d1c56" stroke-width="0.9" />
<line x1="99.25" y1="231.53" x2="97.38" y2="231.57" stroke="#8d1c56" stroke-width="0.9" />
<line x1="99.45" y1="233.23" x2="97.25" y2="233.27" stroke="#8d1c56" stroke-width="0.9" />
<line x1="99.65" y1="234.93" x2="97.12" y2="234.97" stroke="#8d1c56" stroke-width="0.9" />
<line x1="98.4" y1="235.8" x2="103.87" y2="239.71" stroke="#8d1c56" stroke-width="1.15" stroke-linecap="round"/>
<text x="46.6" y="228.48" font-size="8" fill="#8d1c56" font-weight="normal" text-anchor="middle" stroke="#8d1c56" stroke-width="0.3" >O</text>
<text x="55.2" y="213.78" font-size="8" fill="#8d1c56" font-weight="normal" text-anchor="middle" stroke="#8d1c56" stroke-width="0.3" >O</text>
<text x="63.8" y="228.48" font-size="8" fill="#8d1c56" font-weight="normal" text-anchor="middle" stroke="#8d1c56" stroke-width="0.3" >N</text>
<text x="81" y="238.28" font-size="8" fill="#8d1c56" font-weight="normal" text-anchor="middle" stroke="#8d1c56" stroke-width="0.3" >O</text>
<text x="89.6" y="223.48" font-size="8" fill="#8d1c56" font-weight="normal" text-anchor="middle" stroke="#8d1c56" stroke-width="0.3" >N</text>
<text x="106.8" y="213.78" font-size="8" fill="#8d1c56" font-weight="normal" text-anchor="middle" stroke="#8d1c56" stroke-width="0.3" >O</text>
<text x="89.6" y="216.58" font-size="8" fill="#8d1c56" font-weight="normal" text-anchor="middle" stroke="#8d1c56" stroke-width="0.3" >H</text>
<text x="89.6" y="184.48" font-size="8" fill="#8d1c56" font-weight="normal" text-anchor="middle" stroke="#8d1c56" stroke-width="0.3" >N</text>
<text x="92.5" y="186.08" font-size="5.76" fill="#8d1c56" font-weight="normal" text-anchor="start" stroke="#8d1c56" stroke-width="0.3" >3</text>
<text x="104.4" y="244.6" font-size="7.8" fill="#8d1c56" font-weight="normal" text-anchor="start" stroke="#8d1c56" stroke-width="0.3" letter-spacing="-0.55">NH</text>
<text x="115.6" y="246.3" font-size="5.8" fill="#8d1c56" font-weight="normal" text-anchor="start" stroke="#8d1c56" stroke-width="0.3" >3</text>
<circle cx="103" cy="248" r="2.8" fill="none" stroke="#8d1c56" stroke-width="0.85" />
<line x1="101.4" y1="248" x2="104.6" y2="248" stroke="#8d1c56" stroke-width="0.85" />
<line x1="103" y1="246.4" x2="103" y2="249.6" stroke="#8d1c56" stroke-width="0.85" />
<circle cx="121.5" cy="227.7" r="8.9" fill="url(#rg)" stroke="#2f3145" stroke-width="0.9" />
<text x="121.5" y="231.6" font-size="10.8" fill="#dcdce2" font-weight="normal" text-anchor="middle" stroke="#dcdce2" stroke-width="0.35" >R</text>
<text x="65.7" y="263.8" font-size="12.5" fill="#000" font-weight="bold" text-anchor="middle" >1</text>
<path d="M155.73,220.2 L149.11,227.29 L139.66,225.11 L136.82,215.84 L143.44,208.74 L152.89,210.92 Z" fill="none" stroke="#1f2470" stroke-width="1.15" stroke-linejoin="round"/>
<path d="M153.81,235.78 L163.33,233.93 L169.7,241.25 L166.54,250.42 L157.02,252.27 L150.65,244.95 Z" fill="none" stroke="#1f2470" stroke-width="1.15" stroke-linejoin="round"/>
<line x1="153.36" y1="220.25" x2="148.99" y2="224.93" stroke="#1f2470" stroke-width="1.035" />
<line x1="140.8" y1="223.04" x2="138.93" y2="216.92" stroke="#1f2470" stroke-width="1.035" />
<line x1="144.66" y1="210.77" x2="150.9" y2="212.21" stroke="#1f2470" stroke-width="1.035" />
<line x1="155.76" y1="237.13" x2="162.04" y2="235.91" stroke="#1f2470" stroke-width="1.035" />
<line x1="167.55" y1="242.25" x2="165.47" y2="248.31" stroke="#1f2470" stroke-width="1.035" />
<line x1="157.22" y1="249.91" x2="153.02" y2="245.08" stroke="#1f2470" stroke-width="1.035" />
<line x1="155.73" y1="220.2" x2="164.52" y2="224.3" stroke="#1f2470" stroke-width="1.15" />
<line x1="163.33" y1="233.93" x2="164.52" y2="224.3" stroke="#1f2470" stroke-width="1.15" />
<line x1="149.11" y1="227.29" x2="153.81" y2="235.78" stroke="#1f2470" stroke-width="1.15" />
<line x1="164.52" y1="224.3" x2="173.1" y2="219.3" stroke="#1f2470" stroke-width="1.15" stroke-linecap="round"/>
<line x1="173.1" y1="219.3" x2="178.59" y2="222.49" stroke="#1f2470" stroke-width="1.15" stroke-linecap="round"/>
<line x1="184.81" y1="222.49" x2="190.3" y2="219.3" stroke="#1f2470" stroke-width="1.15" stroke-linecap="round"/>
<line x1="191.45" y1="219.3" x2="191.45" y2="213.2" stroke="#1f2470" stroke-width="1.035" />
<line x1="189.15" y1="219.3" x2="189.15" y2="213.2" stroke="#1f2470" stroke-width="1.035" />
<line x1="190.3" y1="219.3" x2="195.79" y2="222.49" stroke="#1f2470" stroke-width="1.15" stroke-linecap="round"/>
<line x1="202.01" y1="222.49" x2="207.5" y2="219.3" stroke="#1f2470" stroke-width="1.15" stroke-linecap="round"/>
<text x="198.9" y="234.28" font-size="8" fill="#1f2470" font-weight="normal" text-anchor="middle" stroke="#1f2470" stroke-width="0.3" >H</text>
<polygon points="208.25,219.3 208.65,209.5 206.35,209.5 206.75,219.3" fill="#1f2470"/>
<line x1="207.5" y1="209.5" x2="216.1" y2="204.6" stroke="#1f2470" stroke-width="1.15" stroke-linecap="round"/>
<line x1="216.1" y1="204.6" x2="216.1" y2="194.8" stroke="#1f2470" stroke-width="1.15" stroke-linecap="round"/>
<line x1="216.1" y1="194.8" x2="224.7" y2="189.9" stroke="#1f2470" stroke-width="1.15" stroke-linecap="round"/>
<line x1="224.7" y1="189.9" x2="224.7" y2="183.7" stroke="#1f2470" stroke-width="1.15" stroke-linecap="round"/>
<line x1="207.5" y1="219.3" x2="216.1" y2="224.3" stroke="#1f2470" stroke-width="1.15" stroke-linecap="round"/>
<line x1="214.95" y1="224.3" x2="214.95" y2="230.5" stroke="#1f2470" stroke-width="1.035" />
<line x1="217.25" y1="224.3" x2="217.25" y2="230.5" stroke="#1f2470" stroke-width="1.035" />
<line x1="216.1" y1="224.3" x2="221.59" y2="221.11" stroke="#1f2470" stroke-width="1.15" stroke-linecap="round"/>
<line x1="227.81" y1="221.11" x2="233.3" y2="224.3" stroke="#1f2470" stroke-width="1.15" stroke-linecap="round"/>
<line x1="233.3" y1="224.3" x2="241.9" y2="219.3" stroke="#1f2470" stroke-width="1.15" stroke-linecap="round"/>
<line x1="243.05" y1="219.3" x2="243.05" y2="213.2" stroke="#1f2470" stroke-width="1.035" />
<line x1="240.75" y1="219.3" x2="240.75" y2="213.2" stroke="#1f2470" stroke-width="1.035" />
<line x1="241.9" y1="219.3" x2="247.72" y2="222.68" stroke="#1f2470" stroke-width="1.15" stroke-linecap="round"/>
<line x1="233.73" y1="225.12" x2="232.87" y2="225.12" stroke="#1f2470" stroke-width="0.9" />
<line x1="233.9" y1="226.75" x2="232.7" y2="226.75" stroke="#1f2470" stroke-width="0.9" />
<line x1="234.07" y1="228.38" x2="232.53" y2="228.38" stroke="#1f2470" stroke-width="0.9" />
<line x1="234.23" y1="230.02" x2="232.37" y2="230.02" stroke="#1f2470" stroke-width="0.9" />
<line x1="234.4" y1="231.65" x2="232.2" y2="231.65" stroke="#1f2470" stroke-width="0.9" />
<line x1="234.57" y1="233.28" x2="232.03" y2="233.28" stroke="#1f2470" stroke-width="0.9" />
<line x1="233.3" y1="234.1" x2="224.7" y2="239.1" stroke="#1f2470" stroke-width="1.15" stroke-linecap="round"/>
<line x1="224.7" y1="239.1" x2="224.7" y2="248.9" stroke="#1f2470" stroke-width="1.15" stroke-linecap="round"/>
<line x1="224.7" y1="248.9" x2="216.1" y2="253.8" stroke="#1f2470" stroke-width="1.15" stroke-linecap="round"/>
<line x1="216.1" y1="253.8" x2="216.1" y2="260.3" stroke="#1f2470" stroke-width="1.15" stroke-linecap="round"/>
<text x="181.7" y="227.18" font-size="8" fill="#1f2470" font-weight="normal" text-anchor="middle" stroke="#1f2470" stroke-width="0.3" >O</text>
<text x="190.3" y="212.48" font-size="8" fill="#1f2470" font-weight="normal" text-anchor="middle" stroke="#1f2470" stroke-width="0.3" >O</text>
<text x="198.9" y="227.18" font-size="8" fill="#1f2470" font-weight="normal" text-anchor="middle" stroke="#1f2470" stroke-width="0.3" >N</text>
<text x="216.1" y="236.98" font-size="8" fill="#1f2470" font-weight="normal" text-anchor="middle" stroke="#1f2470" stroke-width="0.3" >O</text>
<text x="224.7" y="222.18" font-size="8" fill="#1f2470" font-weight="normal" text-anchor="middle" stroke="#1f2470" stroke-width="0.3" >N</text>
<text x="241.9" y="212.48" font-size="8" fill="#1f2470" font-weight="normal" text-anchor="middle" stroke="#1f2470" stroke-width="0.3" >O</text>
<text x="224.7" y="215.28" font-size="8" fill="#1f2470" font-weight="normal" text-anchor="middle" stroke="#1f2470" stroke-width="0.3" >H</text>
<text x="224.7" y="183.18" font-size="8" fill="#1f2470" font-weight="normal" text-anchor="middle" stroke="#1f2470" stroke-width="0.3" >N</text>
<text x="227.6" y="184.78" font-size="5.76" fill="#1f2470" font-weight="normal" text-anchor="start" stroke="#1f2470" stroke-width="0.3" >3</text>
<text x="213.4" y="267.6" font-size="7.8" fill="#1f2470" font-weight="normal" text-anchor="start" stroke="#1f2470" stroke-width="0.3" letter-spacing="-0.55">NH</text>
<text x="224.6" y="269.2" font-size="5.8" fill="#1f2470" font-weight="normal" text-anchor="start" stroke="#1f2470" stroke-width="0.3" >3</text>
<circle cx="209.3" cy="265.8" r="2.8" fill="none" stroke="#1f2470" stroke-width="0.85" />
<line x1="207.7" y1="265.8" x2="210.9" y2="265.8" stroke="#1f2470" stroke-width="0.85" />
<line x1="209.3" y1="264.2" x2="209.3" y2="267.4" stroke="#1f2470" stroke-width="0.85" />
<circle cx="255.5" cy="227.2" r="8.9" fill="url(#rg)" stroke="#2f3145" stroke-width="0.9" />
<text x="255.5" y="231.1" font-size="10.8" fill="#dcdce2" font-weight="normal" text-anchor="middle" stroke="#dcdce2" stroke-width="0.35" >R</text>
<text x="189.7" y="263.6" font-size="12.5" fill="#000" font-weight="bold" text-anchor="middle" >2</text>
<path d="M29.63,313.4 L23.01,320.49 L13.56,318.31 L10.72,309.04 L17.34,301.94 L26.79,304.12 Z" fill="none" stroke="#1f5a24" stroke-width="1.15" stroke-linejoin="round"/>
<path d="M27.71,328.98 L37.23,327.13 L43.6,334.45 L40.44,343.62 L30.92,345.47 L24.55,338.15 Z" fill="none" stroke="#1f5a24" stroke-width="1.15" stroke-linejoin="round"/>
<line x1="27.26" y1="313.45" x2="22.89" y2="318.13" stroke="#1f5a24" stroke-width="1.035" />
<line x1="14.7" y1="316.24" x2="12.83" y2="310.12" stroke="#1f5a24" stroke-width="1.035" />
<line x1="18.56" y1="303.97" x2="24.8" y2="305.41" stroke="#1f5a24" stroke-width="1.035" />
<line x1="29.66" y1="330.33" x2="35.94" y2="329.11" stroke="#1f5a24" stroke-width="1.035" />
<line x1="41.45" y1="335.45" x2="39.37" y2="341.51" stroke="#1f5a24" stroke-width="1.035" />
<line x1="31.12" y1="343.11" x2="26.92" y2="338.28" stroke="#1f5a24" stroke-width="1.035" />
<line x1="29.63" y1="313.4" x2="38.42" y2="317.5" stroke="#1f5a24" stroke-width="1.15" />
<line x1="37.23" y1="327.13" x2="38.42" y2="317.5" stroke="#1f5a24" stroke-width="1.15" />
<line x1="23.01" y1="320.49" x2="27.71" y2="328.98" stroke="#1f5a24" stroke-width="1.15" />
<line x1="38.42" y1="317.5" x2="47" y2="312.5" stroke="#1f5a24" stroke-width="1.15" stroke-linecap="round"/>
<line x1="47" y1="312.5" x2="52.49" y2="315.69" stroke="#1f5a24" stroke-width="1.15" stroke-linecap="round"/>
<line x1="58.71" y1="315.69" x2="64.2" y2="312.5" stroke="#1f5a24" stroke-width="1.15" stroke-linecap="round"/>
<line x1="65.35" y1="312.5" x2="65.35" y2="306.4" stroke="#1f5a24" stroke-width="1.035" />
<line x1="63.05" y1="312.5" x2="63.05" y2="306.4" stroke="#1f5a24" stroke-width="1.035" />
<line x1="64.2" y1="312.5" x2="69.69" y2="315.69" stroke="#1f5a24" stroke-width="1.15" stroke-linecap="round"/>
<line x1="75.91" y1="315.69" x2="81.4" y2="312.5" stroke="#1f5a24" stroke-width="1.15" stroke-linecap="round"/>
<text x="72.8" y="327.48" font-size="8" fill="#1f5a24" font-weight="normal" text-anchor="middle" stroke="#1f5a24" stroke-width="0.3" >H</text>
<polygon points="82.15,312.5 82.55,302.7 80.25,302.7 80.65,312.5" fill="#1f5a24"/>
<line x1="81.4" y1="302.7" x2="90" y2="297.8" stroke="#1f5a24" stroke-width="1.15" stroke-linecap="round"/>
<line x1="90" y1="297.8" x2="90" y2="288" stroke="#1f5a24" stroke-width="1.15" stroke-linecap="round"/>
<line x1="90" y1="288" x2="98.6" y2="283.1" stroke="#1f5a24" stroke-width="1.15" stroke-linecap="round"/>
<line x1="98.6" y1="283.1" x2="98.6" y2="276.9" stroke="#1f5a24" stroke-width="1.15" stroke-linecap="round"/>
<line x1="81.4" y1="312.5" x2="90" y2="317.5" stroke="#1f5a24" stroke-width="1.15" stroke-linecap="round"/>
<line x1="88.85" y1="317.5" x2="88.85" y2="323.7" stroke="#1f5a24" stroke-width="1.035" />
<line x1="91.15" y1="317.5" x2="91.15" y2="323.7" stroke="#1f5a24" stroke-width="1.035" />
<line x1="90" y1="317.5" x2="95.96" y2="315.53" stroke="#1f5a24" stroke-width="1.15" stroke-linecap="round"/>
<text x="55.6" y="320.38" font-size="8" fill="#1f5a24" font-weight="normal" text-anchor="middle" stroke="#1f5a24" stroke-width="0.3" >O</text>
<text x="64.2" y="305.68" font-size="8" fill="#1f5a24" font-weight="normal" text-anchor="middle" stroke="#1f5a24" stroke-width="0.3" >O</text>
<text x="72.8" y="320.38" font-size="8" fill="#1f5a24" font-weight="normal" text-anchor="middle" stroke="#1f5a24" stroke-width="0.3" >N</text>
<text x="90" y="330.18" font-size="8" fill="#1f5a24" font-weight="normal" text-anchor="middle" stroke="#1f5a24" stroke-width="0.3" >O</text>
<text x="98.6" y="276.38" font-size="8" fill="#1f5a24" font-weight="normal" text-anchor="middle" stroke="#1f5a24" stroke-width="0.3" >N</text>
<text x="101.5" y="277.98" font-size="5.76" fill="#1f5a24" font-weight="normal" text-anchor="start" stroke="#1f5a24" stroke-width="0.3" >3</text>
<circle cx="104.5" cy="312.7" r="8.9" fill="url(#rg)" stroke="#2f3145" stroke-width="0.9" />
<text x="104.5" y="316.6" font-size="10.8" fill="#dcdce2" font-weight="normal" text-anchor="middle" stroke="#dcdce2" stroke-width="0.35" >R</text>
<text x="104.8" y="341.8" font-size="12.8" fill="#000" font-weight="bold" text-anchor="middle" >3</text>
<rect x="163.5" y="301.2" width="74.2" height="40" rx="4.5" fill="#f2f2f2" stroke="none" stroke-width="0" />
<text x="149.3" y="325.1" font-size="10.5" fill="#000" font-weight="bold" text-anchor="middle" >R =</text>
<path d="M172.4,317.2 L173.23,317.02 L173.68,316.69 L173.58,316.14 L173.1,315.43 L172.62,314.73 L172.52,314.18 L172.97,313.85 L173.8,313.67 L174.63,313.49 L175.08,313.15 L174.98,312.6 L174.5,311.9 L174.02,311.2 L173.92,310.65 L174.37,310.31 L175.2,310.13 L176.03,309.95 L176.48,309.62 L176.38,309.07 L175.9,308.37 L175.42,307.66 L175.32,307.11 L175.77,306.78 L176.6,306.6" fill="none" stroke="#111" stroke-width="1.15" stroke-linecap="round"/>
<line x1="174.5" y1="311.9" x2="181" y2="315.4" stroke="#111" stroke-width="0.9" />
<text x="182" y="321.4" font-size="8.5" fill="#111" font-weight="normal" text-anchor="start" stroke="#111" stroke-width="0.3" >NH</text>
<text x="194.2" y="323.2" font-size="6.2" fill="#111" font-weight="normal" text-anchor="start" stroke="#111" stroke-width="0.3" >2</text>
<text x="177.9" y="337.3" font-size="10.5" fill="#000" font-weight="bold" text-anchor="middle" >p</text>
<path d="M209.2,316.2 L210.05,316.07 L210.53,315.76 L210.48,315.19 L210.07,314.43 L209.65,313.68 L209.6,313.11 L210.08,312.8 L210.93,312.67 L211.78,312.54 L212.26,312.22 L212.22,311.65 L211.8,310.9 L211.38,310.15 L211.34,309.58 L211.82,309.26 L212.67,309.13 L213.52,309 L214,308.69 L213.95,308.12 L213.53,307.37 L213.12,306.61 L213.07,306.04 L213.55,305.73 L214.4,305.6" fill="none" stroke="#111" stroke-width="1.15" stroke-linecap="round"/>
<line x1="212" y1="310.8" x2="218.6" y2="314.2" stroke="#111" stroke-width="0.9" />
<text x="221.8" y="319.8" font-size="8.5" fill="#111" font-weight="normal" text-anchor="middle" stroke="#111" stroke-width="0.3" >O</text>
<circle cx="227.2" cy="323.1" r="2.6" fill="none" stroke="#111" stroke-width="0.85" />
<line x1="225.6" y1="323.1" x2="228.8" y2="323.1" stroke="#111" stroke-width="0.85" />
<text x="223.4" y="337.3" font-size="10.5" fill="#000" font-weight="bold" text-anchor="middle" >n</text>
<path d="M296.83,238.3 L290.21,245.39 L280.76,243.21 L277.92,233.94 L284.54,226.84 L293.99,229.02 Z" fill="none" stroke="#8d1c56" stroke-width="1.15" stroke-linejoin="round"/>
<path d="M294.91,253.88 L304.43,252.03 L310.8,259.35 L307.64,268.52 L298.12,270.37 L291.75,263.05 Z" fill="none" stroke="#8d1c56" stroke-width="1.15" stroke-linejoin="round"/>
<line x1="294.46" y1="238.35" x2="290.09" y2="243.03" stroke="#8d1c56" stroke-width="1.035" />
<line x1="281.9" y1="241.14" x2="280.03" y2="235.02" stroke="#8d1c56" stroke-width="1.035" />
<line x1="285.76" y1="228.87" x2="292" y2="230.31" stroke="#8d1c56" stroke-width="1.035" />
<line x1="296.86" y1="255.23" x2="303.14" y2="254.01" stroke="#8d1c56" stroke-width="1.035" />
<line x1="308.65" y1="260.35" x2="306.57" y2="266.41" stroke="#8d1c56" stroke-width="1.035" />
<line x1="298.32" y1="268.01" x2="294.12" y2="263.18" stroke="#8d1c56" stroke-width="1.035" />
<line x1="296.83" y1="238.3" x2="305.62" y2="242.4" stroke="#8d1c56" stroke-width="1.15" />
<line x1="304.43" y1="252.03" x2="305.62" y2="242.4" stroke="#8d1c56" stroke-width="1.15" />
<line x1="290.21" y1="245.39" x2="294.91" y2="253.88" stroke="#8d1c56" stroke-width="1.15" />
<line x1="305.62" y1="242.4" x2="314.2" y2="237.4" stroke="#8d1c56" stroke-width="1.15" stroke-linecap="round"/>
<line x1="314.2" y1="237.4" x2="319.69" y2="240.59" stroke="#8d1c56" stroke-width="1.15" stroke-linecap="round"/>
<line x1="325.91" y1="240.59" x2="331.4" y2="237.4" stroke="#8d1c56" stroke-width="1.15" stroke-linecap="round"/>
<line x1="332.55" y1="237.4" x2="332.55" y2="231.3" stroke="#8d1c56" stroke-width="1.035" />
<line x1="330.25" y1="237.4" x2="330.25" y2="231.3" stroke="#8d1c56" stroke-width="1.035" />
<line x1="331.4" y1="237.4" x2="336.89" y2="240.59" stroke="#8d1c56" stroke-width="1.15" stroke-linecap="round"/>
<line x1="343.11" y1="240.59" x2="348.6" y2="237.4" stroke="#8d1c56" stroke-width="1.15" stroke-linecap="round"/>
<text x="340" y="252.38" font-size="8" fill="#8d1c56" font-weight="normal" text-anchor="middle" stroke="#8d1c56" stroke-width="0.3" >H</text>
<polygon points="349.35,237.4 349.75,227.6 347.45,227.6 347.85,237.4" fill="#8d1c56"/>
<line x1="348.6" y1="227.6" x2="357.2" y2="222.7" stroke="#8d1c56" stroke-width="1.15" stroke-linecap="round"/>
<line x1="357.2" y1="222.7" x2="357.2" y2="212.9" stroke="#8d1c56" stroke-width="1.15" stroke-linecap="round"/>
<line x1="357.2" y1="212.9" x2="365.8" y2="208" stroke="#8d1c56" stroke-width="1.15" stroke-linecap="round"/>
<line x1="365.8" y1="208" x2="365.74" y2="204" stroke="#8d1c56" stroke-width="1.15" stroke-linecap="round"/>
<line x1="348.6" y1="237.4" x2="357.2" y2="242.4" stroke="#8d1c56" stroke-width="1.15" stroke-linecap="round"/>
<line x1="356.05" y1="242.4" x2="356.05" y2="248.6" stroke="#8d1c56" stroke-width="1.035" />
<line x1="358.35" y1="242.4" x2="358.35" y2="248.6" stroke="#8d1c56" stroke-width="1.035" />
<line x1="357.2" y1="242.4" x2="362.69" y2="239.21" stroke="#8d1c56" stroke-width="1.15" stroke-linecap="round"/>
<line x1="368.91" y1="239.21" x2="374.4" y2="242.4" stroke="#8d1c56" stroke-width="1.15" stroke-linecap="round"/>
<line x1="374.4" y1="242.4" x2="383" y2="237.4" stroke="#8d1c56" stroke-width="1.15" stroke-linecap="round"/>
<line x1="383" y1="237.4" x2="391.6" y2="242.4" stroke="#8d1c56" stroke-width="1.15" stroke-linecap="round"/>
<line x1="391.6" y1="242.4" x2="400.2" y2="237.4" stroke="#8d1c56" stroke-width="1.15" stroke-linecap="round"/>
<line x1="400.2" y1="237.4" x2="405.69" y2="240.59" stroke="#8d1c56" stroke-width="1.15" stroke-linecap="round"/>
<text x="322.8" y="245.28" font-size="8" fill="#8d1c56" font-weight="normal" text-anchor="middle" stroke="#8d1c56" stroke-width="0.3" >O</text>
<text x="331.4" y="230.58" font-size="8" fill="#8d1c56" font-weight="normal" text-anchor="middle" stroke="#8d1c56" stroke-width="0.3" >O</text>
<text x="340" y="245.28" font-size="8" fill="#8d1c56" font-weight="normal" text-anchor="middle" stroke="#8d1c56" stroke-width="0.3" >N</text>
<text x="357.2" y="255.08" font-size="8" fill="#8d1c56" font-weight="normal" text-anchor="middle" stroke="#8d1c56" stroke-width="0.3" >O</text>
<text x="365.8" y="240.28" font-size="8" fill="#8d1c56" font-weight="normal" text-anchor="middle" stroke="#8d1c56" stroke-width="0.3" >N</text>
<text x="365.8" y="233.38" font-size="8" fill="#8d1c56" font-weight="normal" text-anchor="middle" stroke="#8d1c56" stroke-width="0.3" >H</text>
<text x="408.8" y="245.28" font-size="8" fill="#8d1c56" font-weight="normal" text-anchor="middle" stroke="#8d1c56" stroke-width="0.3" >N</text>
<text x="411.7" y="246.88" font-size="5.76" fill="#8d1c56" font-weight="normal" text-anchor="start" stroke="#8d1c56" stroke-width="0.3" >3</text>
<circle cx="365.6" cy="195" r="8.9" fill="url(#rg)" stroke="#2f3145" stroke-width="0.9" />
<text x="365.6" y="198.9" font-size="10.8" fill="#dcdce2" font-weight="normal" text-anchor="middle" stroke="#dcdce2" stroke-width="0.35" >R</text>
<text x="342.6" y="269.2" font-size="12.5" fill="#000" font-weight="bold" text-anchor="middle" >4</text>
<line x1="432.79" y1="231.07" x2="438.9" y2="234.5" stroke="#1f2470" stroke-width="1.15" stroke-linecap="round"/>
<line x1="438.9" y1="234.5" x2="447.5" y2="229.5" stroke="#1f2470" stroke-width="1.15" stroke-linecap="round"/>
<line x1="448.65" y1="229.5" x2="448.65" y2="223.3" stroke="#1f2470" stroke-width="1.035" />
<line x1="446.35" y1="229.5" x2="446.35" y2="223.3" stroke="#1f2470" stroke-width="1.035" />
<line x1="447.5" y1="229.5" x2="452.99" y2="232.69" stroke="#1f2470" stroke-width="1.15" stroke-linecap="round"/>
<line x1="459.21" y1="232.69" x2="464.7" y2="229.5" stroke="#1f2470" stroke-width="1.15" stroke-linecap="round"/>
<polygon points="465.45,229.5 465.85,219.7 463.55,219.7 463.95,229.5" fill="#1f2470"/>
<line x1="464.7" y1="219.7" x2="473.3" y2="214.8" stroke="#1f2470" stroke-width="1.15" stroke-linecap="round"/>
<line x1="473.3" y1="214.8" x2="473.3" y2="205" stroke="#1f2470" stroke-width="1.15" stroke-linecap="round"/>
<line x1="473.3" y1="205" x2="481.9" y2="200.1" stroke="#1f2470" stroke-width="1.15" stroke-linecap="round"/>
<line x1="481.9" y1="200.1" x2="481.86" y2="193.8" stroke="#1f2470" stroke-width="1.15" stroke-linecap="round"/>
<line x1="464.7" y1="229.5" x2="473.3" y2="234.5" stroke="#1f2470" stroke-width="1.15" stroke-linecap="round"/>
<line x1="472.15" y1="234.5" x2="472.15" y2="240.7" stroke="#1f2470" stroke-width="1.035" />
<line x1="474.45" y1="234.5" x2="474.45" y2="240.7" stroke="#1f2470" stroke-width="1.035" />
<line x1="473.3" y1="234.5" x2="478.79" y2="231.31" stroke="#1f2470" stroke-width="1.15" stroke-linecap="round"/>
<line x1="485.01" y1="231.31" x2="490.5" y2="234.5" stroke="#1f2470" stroke-width="1.15" stroke-linecap="round"/>
<line x1="490.5" y1="234.5" x2="499.1" y2="229.5" stroke="#1f2470" stroke-width="1.15" stroke-linecap="round"/>
<line x1="500.25" y1="229.5" x2="500.25" y2="223.3" stroke="#1f2470" stroke-width="1.035" />
<line x1="497.95" y1="229.5" x2="497.95" y2="223.3" stroke="#1f2470" stroke-width="1.035" />
<line x1="499.1" y1="229.5" x2="504.76" y2="232.79" stroke="#1f2470" stroke-width="1.15" stroke-linecap="round"/>
<line x1="490.93" y1="235.29" x2="490.07" y2="235.29" stroke="#1f2470" stroke-width="0.9" />
<line x1="491.1" y1="236.88" x2="489.9" y2="236.88" stroke="#1f2470" stroke-width="0.9" />
<line x1="491.27" y1="238.46" x2="489.73" y2="238.46" stroke="#1f2470" stroke-width="0.9" />
<line x1="491.43" y1="240.04" x2="489.57" y2="240.04" stroke="#1f2470" stroke-width="0.9" />
<line x1="491.6" y1="241.62" x2="489.4" y2="241.62" stroke="#1f2470" stroke-width="0.9" />
<line x1="491.77" y1="243.21" x2="489.23" y2="243.21" stroke="#1f2470" stroke-width="0.9" />
<line x1="490.5" y1="244" x2="497" y2="248.4" stroke="#1f2470" stroke-width="1.15" />
<line x1="497" y1="248.4" x2="506.3" y2="246.3" stroke="#1f2470" stroke-width="1.15" stroke-linecap="round"/>
<line x1="506.3" y1="246.3" x2="509.64" y2="252.85" stroke="#1f2470" stroke-width="1.15" stroke-linecap="round"/>
<line x1="509.18" y1="258.26" x2="505.7" y2="262.9" stroke="#1f2470" stroke-width="1.15" stroke-linecap="round"/>
<line x1="505.7" y1="262.9" x2="497" y2="259.3" stroke="#1f2470" stroke-width="1.15" stroke-linecap="round"/>
<line x1="497" y1="259.3" x2="497" y2="248.4" stroke="#1f2470" stroke-width="1.15" stroke-linecap="round"/>
<path d="M497,259.3 L489.1,265.3 L489.8,274.3 L499.1,278.3 L506.3,272.3 L505.7,262.9 Z" fill="none" stroke="#1f2470" stroke-width="1.15" stroke-linejoin="round"/>
<line x1="498.99" y1="249.69" x2="505.13" y2="248.31" stroke="#1f2470" stroke-width="1.035" />
<line x1="490.91" y1="266.62" x2="491.37" y2="272.56" stroke="#1f2470" stroke-width="1.035" />
<line x1="499.31" y1="275.91" x2="504.06" y2="271.95" stroke="#1f2470" stroke-width="1.035" />
<line x1="503.51" y1="263.83" x2="497.77" y2="261.46" stroke="#1f2470" stroke-width="1.035" />
<text x="447.5" y="222.58" font-size="8" fill="#1f2470" font-weight="normal" text-anchor="middle" stroke="#1f2470" stroke-width="0.3" >O</text>
<text x="456.1" y="237.38" font-size="8" fill="#1f2470" font-weight="normal" text-anchor="middle" stroke="#1f2470" stroke-width="0.3" >N</text>
<text x="473.3" y="247.18" font-size="8" fill="#1f2470" font-weight="normal" text-anchor="middle" stroke="#1f2470" stroke-width="0.3" >O</text>
<text x="481.9" y="232.38" font-size="8" fill="#1f2470" font-weight="normal" text-anchor="middle" stroke="#1f2470" stroke-width="0.3" >N</text>
<text x="499.1" y="222.58" font-size="8" fill="#1f2470" font-weight="normal" text-anchor="middle" stroke="#1f2470" stroke-width="0.3" >O</text>
<text x="456.1" y="244.38" font-size="8" fill="#1f2470" font-weight="normal" text-anchor="middle" stroke="#1f2470" stroke-width="0.3" >H</text>
<text x="481.9" y="225.28" font-size="8" fill="#1f2470" font-weight="normal" text-anchor="middle" stroke="#1f2470" stroke-width="0.3" >H</text>
<text x="424.4" y="232.4" font-size="8" fill="#1f2470" font-weight="normal" text-anchor="start" stroke="#1f2470" stroke-width="0.3" >N</text>
<text x="430" y="234" font-size="5.76" fill="#1f2470" font-weight="normal" text-anchor="start" stroke="#1f2470" stroke-width="0.3" >3</text>
<text x="504.9" y="237.4" font-size="7.8" fill="#1f2470" font-weight="normal" text-anchor="start" stroke="#1f2470" stroke-width="0.3" letter-spacing="-0.55">NH</text>
<text x="515.9" y="239" font-size="5.8" fill="#1f2470" font-weight="normal" text-anchor="start" stroke="#1f2470" stroke-width="0.3" >2</text>
<text x="509.2" y="258.6" font-size="7.8" fill="#1f2470" font-weight="normal" text-anchor="start" stroke="#1f2470" stroke-width="0.3" letter-spacing="-0.55">NH</text>
<circle cx="481.8" cy="184.8" r="8.9" fill="url(#rg)" stroke="#2f3145" stroke-width="0.9" />
<text x="481.8" y="188.7" font-size="10.8" fill="#dcdce2" font-weight="normal" text-anchor="middle" stroke="#dcdce2" stroke-width="0.35" >R</text>
<text x="468.8" y="266.1" font-size="12.5" fill="#000" font-weight="bold" text-anchor="middle" >5</text>
<line x1="628.8" y1="194.9" x2="628.8" y2="199.5" stroke="#1f5a24" stroke-width="1.15" stroke-linecap="round"/>
<line x1="628.8" y1="199.5" x2="620.2" y2="204.4" stroke="#1f5a24" stroke-width="1.15" stroke-linecap="round"/>
<line x1="620.2" y1="204.4" x2="620.2" y2="214.2" stroke="#1f5a24" stroke-width="1.15" stroke-linecap="round"/>
<line x1="620.2" y1="214.2" x2="611.6" y2="219.1" stroke="#1f5a24" stroke-width="1.15" stroke-linecap="round"/>
<polygon points="612.35,228.9 612.75,219.1 610.45,219.1 610.85,228.9" fill="#1f5a24"/>
<line x1="611.6" y1="228.9" x2="620.2" y2="233.9" stroke="#1f5a24" stroke-width="1.15" stroke-linecap="round"/>
<line x1="619.05" y1="233.9" x2="619.05" y2="240.1" stroke="#1f5a24" stroke-width="1.035" />
<line x1="621.35" y1="233.9" x2="621.35" y2="240.1" stroke="#1f5a24" stroke-width="1.035" />
<line x1="620.2" y1="233.9" x2="625.69" y2="230.71" stroke="#1f5a24" stroke-width="1.15" stroke-linecap="round"/>
<line x1="631.91" y1="230.71" x2="637.4" y2="233.9" stroke="#1f5a24" stroke-width="1.15" stroke-linecap="round"/>
<line x1="637.4" y1="233.9" x2="646" y2="228.9" stroke="#1f5a24" stroke-width="1.15" stroke-linecap="round"/>
<line x1="646" y1="228.9" x2="654.6" y2="233.9" stroke="#1f5a24" stroke-width="1.15" stroke-linecap="round"/>
<line x1="654.6" y1="233.9" x2="663.2" y2="228.9" stroke="#1f5a24" stroke-width="1.15" stroke-linecap="round"/>
<line x1="663.2" y1="228.9" x2="668.69" y2="232.09" stroke="#1f5a24" stroke-width="1.15" stroke-linecap="round"/>
<line x1="611.6" y1="228.9" x2="606.11" y2="232.09" stroke="#1f5a24" stroke-width="1.15" stroke-linecap="round"/>
<line x1="599.89" y1="232.09" x2="594.4" y2="228.9" stroke="#1f5a24" stroke-width="1.15" stroke-linecap="round"/>
<line x1="595.55" y1="228.9" x2="595.55" y2="222.7" stroke="#1f5a24" stroke-width="1.035" />
<line x1="593.25" y1="228.9" x2="593.25" y2="222.7" stroke="#1f5a24" stroke-width="1.035" />
<line x1="594.4" y1="228.9" x2="585.8" y2="233.9" stroke="#1f5a24" stroke-width="1.15" stroke-linecap="round"/>
<line x1="585.8" y1="233.9" x2="585.8" y2="243.7" stroke="#1f5a24" stroke-width="1.15" stroke-linecap="round"/>
<line x1="585.8" y1="243.7" x2="577.2" y2="248.6" stroke="#1f5a24" stroke-width="1.15" stroke-linecap="round"/>
<line x1="577.2" y1="248.6" x2="568.6" y2="243.7" stroke="#1f5a24" stroke-width="1.15" stroke-linecap="round"/>
<line x1="568.6" y1="243.7" x2="568.6" y2="237.5" stroke="#1f5a24" stroke-width="1.15" stroke-linecap="round"/>
<line x1="571.71" y1="232.09" x2="577.2" y2="228.9" stroke="#1f5a24" stroke-width="1.15" stroke-linecap="round"/>
<line x1="577.2" y1="228.9" x2="585.8" y2="233.9" stroke="#1f5a24" stroke-width="1.15" stroke-linecap="round"/>
<line x1="578.35" y1="228.9" x2="578.35" y2="222.7" stroke="#1f5a24" stroke-width="1.035" />
<line x1="576.05" y1="228.9" x2="576.05" y2="222.7" stroke="#1f5a24" stroke-width="1.035" />
<line x1="577.2" y1="248.6" x2="577.2" y2="258.4" stroke="#1f5a24" stroke-width="1.15" stroke-linecap="round"/>
<line x1="577.2" y1="258.4" x2="568.6" y2="263.3" stroke="#1f5a24" stroke-width="1.15" stroke-linecap="round"/>
<line x1="568.6" y1="263.3" x2="560" y2="258.4" stroke="#1f5a24" stroke-width="1.15" stroke-linecap="round"/>
<line x1="560" y1="258.4" x2="560" y2="248.6" stroke="#1f5a24" stroke-width="1.15" stroke-linecap="round"/>
<line x1="560" y1="248.6" x2="568.6" y2="243.7" stroke="#1f5a24" stroke-width="1.15" stroke-linecap="round"/>
<line x1="560" y1="258.4" x2="554.53" y2="261.52" stroke="#1f5a24" stroke-width="1.15" stroke-linecap="round"/>
<line x1="548.27" y1="261.52" x2="542.8" y2="258.4" stroke="#1f5a24" stroke-width="1.15" stroke-linecap="round"/>
<line x1="542.8" y1="258.4" x2="534.2" y2="263.3" stroke="#1f5a24" stroke-width="1.15" stroke-linecap="round"/>
<line x1="551.4" y1="266.9" x2="551.4" y2="273.1" stroke="#1f5a24" stroke-width="1.15" stroke-linecap="round"/>
<line x1="551.4" y1="273.1" x2="542.8" y2="278" stroke="#1f5a24" stroke-width="1.15" stroke-linecap="round"/>
<line x1="584.1" y1="235.57" x2="584.1" y2="242.03" stroke="#1f5a24" stroke-width="1.035" />
<line x1="574.88" y1="257.77" x2="569.2" y2="261" stroke="#1f5a24" stroke-width="1.035" />
<line x1="561.7" y1="256.73" x2="561.7" y2="250.27" stroke="#1f5a24" stroke-width="1.035" />
<line x1="569.2" y1="246" x2="574.88" y2="249.23" stroke="#1f5a24" stroke-width="1.035" />
<text x="620.2" y="246.58" font-size="8" fill="#1f5a24" font-weight="normal" text-anchor="middle" stroke="#1f5a24" stroke-width="0.3" >O</text>
<text x="628.8" y="231.78" font-size="8" fill="#1f5a24" font-weight="normal" text-anchor="middle" stroke="#1f5a24" stroke-width="0.3" >N</text>
<text x="603" y="236.78" font-size="8" fill="#1f5a24" font-weight="normal" text-anchor="middle" stroke="#1f5a24" stroke-width="0.3" >N</text>
<text x="594.4" y="221.98" font-size="8" fill="#1f5a24" font-weight="normal" text-anchor="middle" stroke="#1f5a24" stroke-width="0.3" >O</text>
<text x="568.6" y="236.78" font-size="8" fill="#1f5a24" font-weight="normal" text-anchor="middle" stroke="#1f5a24" stroke-width="0.3" >O</text>
<text x="577.2" y="221.98" font-size="8" fill="#1f5a24" font-weight="normal" text-anchor="middle" stroke="#1f5a24" stroke-width="0.3" >O</text>
<text x="551.4" y="266.18" font-size="8" fill="#1f5a24" font-weight="normal" text-anchor="middle" stroke="#1f5a24" stroke-width="0.3" >N</text>
<text x="603" y="243.78" font-size="8" fill="#1f5a24" font-weight="normal" text-anchor="middle" stroke="#1f5a24" stroke-width="0.3" >H</text>
<text x="628.8" y="224.78" font-size="8" fill="#1f5a24" font-weight="normal" text-anchor="middle" stroke="#1f5a24" stroke-width="0.3" >H</text>
<text x="671.8" y="236.78" font-size="8" fill="#1f5a24" font-weight="normal" text-anchor="middle" stroke="#1f5a24" stroke-width="0.3" >N</text>
<text x="674.7" y="238.38" font-size="5.76" fill="#1f5a24" font-weight="normal" text-anchor="start" stroke="#1f5a24" stroke-width="0.3" >3</text>
<circle cx="628.8" cy="185.9" r="8.9" fill="url(#rg)" stroke="#2f3145" stroke-width="0.9" />
<text x="628.8" y="189.8" font-size="10.8" fill="#dcdce2" font-weight="normal" text-anchor="middle" stroke="#dcdce2" stroke-width="0.35" >R</text>
<text x="628.3" y="268.5" font-size="12.5" fill="#000" font-weight="bold" text-anchor="middle" >6</text>
<rect x="372.1" y="294.2" width="220" height="54.1" rx="5" fill="#f2f2f2" stroke="none" stroke-width="0" />
<text x="358.7" y="329.6" font-size="10.5" fill="#000" font-weight="bold" text-anchor="middle" >R =</text>
<path d="M377.8,315.4 L377.53,316.26 L377.59,316.85 L378.15,317.07 L379.05,317.02 L379.95,316.97 L380.51,317.18 L380.57,317.78 L380.3,318.63 L380.03,319.49 L380.09,320.08 L380.65,320.3 L381.55,320.25 L382.45,320.2 L383.01,320.42 L383.07,321.01 L382.8,321.87 L382.53,322.72 L382.59,323.32 L383.15,323.53 L384.05,323.48 L384.95,323.43 L385.51,323.65 L385.57,324.24 L385.3,325.1" fill="none" stroke="#111" stroke-width="1.2" stroke-linecap="round"/>
<line x1="381.2" y1="320" x2="389" y2="316" stroke="#111" stroke-width="1.0" />
<text x="389" y="318.4" font-size="9.6" fill="#111" font-weight="normal" text-anchor="start" stroke="#111" stroke-width="0.35" >CH</text>
<text x="402.96" y="319.9" font-size="7.2" fill="#111" font-weight="normal" text-anchor="start" stroke="#111" stroke-width="0.35" >3</text>
<path d="M416.2,315.4 L415.93,316.26 L415.99,316.85 L416.55,317.07 L417.45,317.02 L418.35,316.97 L418.91,317.18 L418.97,317.78 L418.7,318.63 L418.43,319.49 L418.49,320.08 L419.05,320.3 L419.95,320.25 L420.85,320.2 L421.41,320.42 L421.47,321.01 L421.2,321.87 L420.93,322.72 L420.99,323.32 L421.55,323.53 L422.45,323.48 L423.35,323.43 L423.91,323.65 L423.97,324.24 L423.7,325.1" fill="none" stroke="#111" stroke-width="1.2" stroke-linecap="round"/>
<line x1="420" y1="320.2" x2="426.6" y2="316.6" stroke="#111" stroke-width="1.0" />
<text x="427.2" y="318.5" font-size="9.6" fill="#111" font-weight="normal" text-anchor="start" stroke="#111" stroke-width="0.35" >NH</text>
<text x="441.16" y="320" font-size="7.2" fill="#111" font-weight="normal" text-anchor="start" stroke="#111" stroke-width="0.35" >3</text>
<circle cx="431" cy="306.9" r="2.8" fill="none" stroke="#111" stroke-width="0.85" />
<line x1="429.4" y1="306.9" x2="432.6" y2="306.9" stroke="#111" stroke-width="0.85" />
<line x1="431" y1="305.3" x2="431" y2="308.5" stroke="#111" stroke-width="0.85" />
<path d="M453.6,315.4 L453.33,316.26 L453.39,316.85 L453.95,317.07 L454.85,317.02 L455.75,316.97 L456.31,317.18 L456.37,317.78 L456.1,318.63 L455.83,319.49 L455.89,320.08 L456.45,320.3 L457.35,320.25 L458.25,320.2 L458.81,320.42 L458.87,321.01 L458.6,321.87 L458.33,322.72 L458.39,323.32 L458.95,323.53 L459.85,323.48 L460.75,323.43 L461.31,323.65 L461.37,324.24 L461.1,325.1" fill="none" stroke="#111" stroke-width="1.2" stroke-linecap="round"/>
<line x1="457" y1="320" x2="466.6" y2="316.4" stroke="#111" stroke-width="1.0" />
<text x="466.1" y="305.6" font-size="9.6" fill="#111" font-weight="normal" text-anchor="start" stroke="#111" stroke-width="0.35" >CH</text>
<text x="480.06" y="307.1" font-size="7.2" fill="#111" font-weight="normal" text-anchor="start" stroke="#111" stroke-width="0.35" >3</text>
<line x1="469.4" y1="306.8" x2="469.4" y2="312.2" stroke="#111" stroke-width="1.0" />
<text x="466.6" y="318.5" font-size="9.6" fill="#111" font-weight="normal" text-anchor="start" stroke="#111" stroke-width="0.35" >NH</text>
<text x="480.56" y="320" font-size="7.2" fill="#111" font-weight="normal" text-anchor="start" stroke="#111" stroke-width="0.35" >2</text>
<circle cx="469.2" cy="323.2" r="2.8" fill="none" stroke="#111" stroke-width="0.85" />
<line x1="467.6" y1="323.2" x2="470.8" y2="323.2" stroke="#111" stroke-width="0.85" />
<line x1="469.2" y1="321.6" x2="469.2" y2="324.8" stroke="#111" stroke-width="0.85" />
<path d="M494.8,315.4 L494.53,316.26 L494.59,316.85 L495.15,317.07 L496.05,317.02 L496.95,316.97 L497.51,317.18 L497.57,317.78 L497.3,318.63 L497.03,319.49 L497.09,320.08 L497.65,320.3 L498.55,320.25 L499.45,320.2 L500.01,320.42 L500.07,321.01 L499.8,321.87 L499.53,322.72 L499.59,323.32 L500.15,323.53 L501.05,323.48 L501.95,323.43 L502.51,323.65 L502.57,324.24 L502.3,325.1" fill="none" stroke="#111" stroke-width="1.2" stroke-linecap="round"/>
<line x1="498.2" y1="320" x2="507.6" y2="316.4" stroke="#111" stroke-width="1.0" />
<text x="507.3" y="305.6" font-size="9.6" fill="#111" font-weight="normal" text-anchor="start" stroke="#111" stroke-width="0.35" >CH</text>
<text x="521.26" y="307.1" font-size="7.2" fill="#111" font-weight="normal" text-anchor="start" stroke="#111" stroke-width="0.35" >3</text>
<line x1="510.6" y1="306.8" x2="510.6" y2="312.2" stroke="#111" stroke-width="1.0" />
<text x="507.8" y="318.5" font-size="9.6" fill="#111" font-weight="normal" text-anchor="start" stroke="#111" stroke-width="0.35" >NH</text>
<circle cx="507.8" cy="323.2" r="2.8" fill="none" stroke="#111" stroke-width="0.85" />
<line x1="506.2" y1="323.2" x2="509.4" y2="323.2" stroke="#111" stroke-width="0.85" />
<line x1="507.8" y1="321.6" x2="507.8" y2="324.8" stroke="#111" stroke-width="0.85" />
<line x1="515.2" y1="320.4" x2="518" y2="325.3" stroke="#111" stroke-width="1.0" />
<text x="517.5" y="331.8" font-size="9.6" fill="#111" font-weight="normal" text-anchor="start" stroke="#111" stroke-width="0.35" >CH</text>
<text x="531.46" y="333.3" font-size="7.2" fill="#111" font-weight="normal" text-anchor="start" stroke="#111" stroke-width="0.35" >3</text>
<path d="M545.4,315.4 L545.13,316.26 L545.19,316.85 L545.75,317.07 L546.65,317.02 L547.55,316.97 L548.11,317.18 L548.17,317.78 L547.9,318.63 L547.63,319.49 L547.69,320.08 L548.25,320.3 L549.15,320.25 L550.05,320.2 L550.61,320.42 L550.67,321.01 L550.4,321.87 L550.13,322.72 L550.19,323.32 L550.75,323.53 L551.65,323.48 L552.55,323.43 L553.11,323.65 L553.17,324.24 L552.9,325.1" fill="none" stroke="#111" stroke-width="1.2" stroke-linecap="round"/>
<line x1="548.8" y1="320" x2="558" y2="316.4" stroke="#111" stroke-width="1.0" />
<text x="558" y="305.6" font-size="9.6" fill="#111" font-weight="normal" text-anchor="start" stroke="#111" stroke-width="0.35" >CH</text>
<text x="571.96" y="307.1" font-size="7.2" fill="#111" font-weight="normal" text-anchor="start" stroke="#111" stroke-width="0.35" >3</text>
<line x1="561.1" y1="306.8" x2="561.1" y2="312.2" stroke="#111" stroke-width="1.0" />
<text x="558" y="318.5" font-size="9.6" fill="#111" font-weight="normal" text-anchor="start" stroke="#111" stroke-width="0.35" >N</text>
<line x1="564.6" y1="316" x2="568.6" y2="316" stroke="#111" stroke-width="1.0" />
<text x="569" y="318.5" font-size="9.6" fill="#111" font-weight="normal" text-anchor="start" stroke="#111" stroke-width="0.35" >CH</text>
<text x="582.96" y="320" font-size="7.2" fill="#111" font-weight="normal" text-anchor="start" stroke="#111" stroke-width="0.35" >3</text>
<circle cx="557.6" cy="323.2" r="2.8" fill="none" stroke="#111" stroke-width="0.85" />
<line x1="556" y1="323.2" x2="559.2" y2="323.2" stroke="#111" stroke-width="0.85" />
<line x1="557.6" y1="321.6" x2="557.6" y2="324.8" stroke="#111" stroke-width="0.85" />
<line x1="564.3" y1="320.4" x2="567.4" y2="325.3" stroke="#111" stroke-width="1.0" />
<text x="566.5" y="331.8" font-size="9.6" fill="#111" font-weight="normal" text-anchor="start" stroke="#111" stroke-width="0.35" >CH</text>
<text x="580.46" y="333.3" font-size="7.2" fill="#111" font-weight="normal" text-anchor="start" stroke="#111" stroke-width="0.35" >3</text>
<text x="391.7" y="342.2" font-size="10.5" fill="#000" font-weight="bold" text-anchor="middle" >a</text>
<text x="432" y="342.2" font-size="10.5" fill="#000" font-weight="bold" text-anchor="middle" >b</text>
<text x="469.6" y="342.2" font-size="10.5" fill="#000" font-weight="bold" text-anchor="middle" >c</text>
<text x="509.5" y="342.2" font-size="10.5" fill="#000" font-weight="bold" text-anchor="middle" >d</text>
<text x="561.6" y="342.2" font-size="10.5" fill="#000" font-weight="bold" text-anchor="middle" >e</text></svg></body></html>
